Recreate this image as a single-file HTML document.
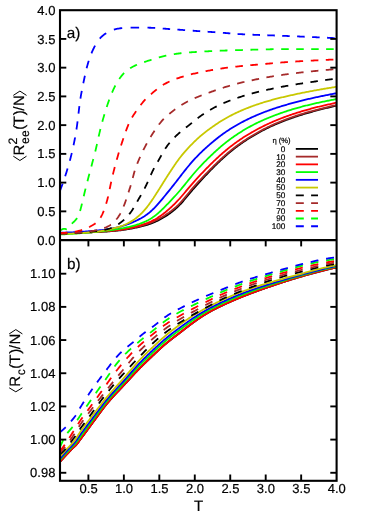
<!DOCTYPE html>
<html><head><meta charset="utf-8"><title>chart</title><style>html,body{margin:0;padding:0;background:#fff}body{width:374px;height:523px;overflow:hidden;position:relative}svg{position:absolute;left:0;top:0}</style></head><body>
<svg width="374" height="523" viewBox="0 0 374 523" style="display:block">
<rect width="374" height="523" fill="#fff"/>
<g fill="none" stroke-width="1.80" stroke-linejoin="round">
<path d="M59.80,233.20 L60.80,233.18 L61.80,233.17 L62.80,233.15 L63.80,233.13 L64.80,233.12 L65.80,233.10 L66.80,233.08 L67.80,233.06 L68.80,233.04 L69.80,233.01 L70.80,232.99 L71.80,232.96 L72.80,232.94 L73.80,232.91 L74.80,232.88 L75.80,232.85 L76.80,232.82 L77.79,232.79 L78.79,232.76 L79.79,232.73 L80.79,232.69 L81.79,232.66 L82.79,232.62 L83.79,232.58 L84.79,232.54 L85.79,232.51 L86.79,232.47 L87.79,232.43 L88.79,232.38 L89.79,232.34 L90.79,232.30 L91.78,232.26 L92.78,232.21 L93.78,232.17 L94.78,232.12 L95.78,232.08 L96.78,232.03 L97.78,231.98 L98.78,231.93 L99.78,231.88 L100.77,231.83 L101.77,231.78 L102.77,231.72 L103.77,231.67 L104.77,231.61 L105.77,231.55 L106.76,231.49 L107.76,231.42 L108.76,231.36 L109.76,231.28 L110.75,231.21 L111.75,231.13 L112.75,231.05 L113.74,230.97 L114.74,230.88 L115.73,230.79 L116.73,230.69 L117.72,230.59 L118.71,230.48 L119.71,230.36 L120.70,230.24 L121.69,230.12 L122.68,229.98 L123.67,229.85 L124.66,229.70 L125.64,229.55 L126.63,229.39 L127.62,229.23 L128.60,229.05 L129.58,228.88 L130.57,228.70 L131.55,228.51 L132.53,228.32 L133.51,228.12 L134.49,227.92 L135.47,227.72 L136.44,227.51 L137.42,227.30 L138.39,227.08 L139.37,226.85 L140.34,226.63 L141.31,226.39 L142.28,226.15 L143.25,225.90 L144.21,225.65 L145.17,225.38 L146.13,225.10 L147.08,224.82 L148.03,224.52 L148.98,224.21 L149.92,223.89 L150.86,223.56 L151.79,223.21 L152.72,222.85 L153.64,222.48 L154.56,222.09 L155.47,221.70 L156.38,221.28 L157.28,220.86 L158.17,220.42 L159.06,219.97 L159.94,219.52 L160.82,219.04 L161.69,218.56 L162.56,218.07 L163.42,217.57 L164.28,217.06 L165.13,216.53 L165.97,216.00 L166.80,215.46 L167.64,214.91 L168.46,214.35 L169.28,213.78 L170.09,213.20 L170.89,212.61 L171.68,212.01 L172.47,211.40 L173.25,210.78 L174.02,210.15 L174.79,209.51 L175.54,208.86 L176.28,208.20 L177.02,207.53 L177.74,206.85 L178.46,206.16 L179.16,205.45 L179.86,204.74 L180.54,204.02 L181.22,203.29 L181.89,202.55 L182.55,201.81 L183.20,201.05 L183.85,200.29 L184.49,199.53 L185.12,198.76 L185.76,197.99 L186.39,197.22 L187.02,196.45 L187.66,195.67 L188.29,194.90 L188.92,194.13 L189.56,193.36 L190.20,192.59 L190.84,191.82 L191.48,191.06 L192.13,190.30 L192.78,189.54 L193.44,188.79 L194.10,188.04 L194.76,187.29 L195.42,186.54 L196.09,185.79 L196.76,185.05 L197.43,184.31 L198.10,183.57 L198.77,182.83 L199.45,182.09 L200.13,181.36 L200.80,180.62 L201.48,179.89 L202.16,179.15 L202.84,178.42 L203.53,177.69 L204.21,176.96 L204.89,176.23 L205.58,175.50 L206.27,174.78 L206.95,174.05 L207.64,173.33 L208.33,172.60 L209.03,171.88 L209.72,171.16 L210.42,170.44 L211.11,169.73 L211.81,169.01 L212.51,168.30 L213.21,167.59 L213.92,166.88 L214.63,166.17 L215.33,165.47 L216.05,164.76 L216.76,164.06 L217.47,163.37 L218.19,162.67 L218.91,161.98 L219.64,161.29 L220.36,160.60 L221.09,159.92 L221.83,159.24 L222.56,158.56 L223.30,157.89 L224.04,157.22 L224.79,156.55 L225.54,155.89 L226.29,155.23 L227.04,154.58 L227.80,153.93 L228.56,153.28 L229.33,152.63 L230.09,152.00 L230.87,151.36 L231.64,150.73 L232.42,150.10 L233.20,149.48 L233.99,148.87 L234.78,148.25 L235.57,147.64 L236.37,147.04 L237.17,146.44 L237.97,145.85 L238.78,145.26 L239.59,144.67 L240.40,144.09 L241.22,143.52 L242.04,142.95 L242.86,142.38 L243.69,141.82 L244.52,141.26 L245.35,140.71 L246.19,140.16 L247.02,139.62 L247.86,139.08 L248.71,138.54 L249.56,138.01 L250.40,137.49 L251.26,136.96 L252.11,136.44 L252.97,135.93 L253.83,135.42 L254.69,134.91 L255.55,134.41 L256.42,133.92 L257.29,133.42 L258.16,132.93 L259.04,132.45 L259.91,131.97 L260.79,131.49 L261.67,131.02 L262.56,130.55 L263.44,130.09 L264.33,129.63 L265.22,129.18 L266.11,128.73 L267.01,128.29 L267.91,127.85 L268.81,127.42 L269.71,126.99 L270.61,126.56 L271.52,126.14 L272.43,125.73 L273.34,125.32 L274.25,124.91 L275.17,124.51 L276.09,124.11 L277.00,123.72 L277.93,123.33 L278.85,122.94 L279.77,122.56 L280.70,122.19 L281.63,121.82 L282.56,121.45 L283.49,121.08 L284.42,120.72 L285.35,120.37 L286.29,120.01 L287.22,119.66 L288.16,119.32 L289.10,118.98 L290.04,118.64 L290.98,118.30 L291.93,117.97 L292.87,117.64 L293.82,117.32 L294.76,117.00 L295.71,116.68 L296.66,116.37 L297.61,116.06 L298.56,115.75 L299.51,115.44 L300.47,115.14 L301.42,114.85 L302.38,114.55 L303.33,114.26 L304.29,113.97 L305.25,113.69 L306.21,113.41 L307.17,113.13 L308.13,112.85 L309.09,112.58 L310.05,112.30 L311.02,112.04 L311.98,111.77 L312.94,111.50 L313.91,111.24 L314.87,110.98 L315.84,110.72 L316.81,110.47 L317.77,110.21 L318.74,109.96 L319.71,109.71 L320.68,109.46 L321.65,109.21 L322.62,108.97 L323.59,108.72 L324.56,108.48 L325.53,108.24 L326.50,108.00 L327.47,107.77 L328.44,107.53 L329.41,107.30 L330.39,107.06 L331.36,106.83 L332.33,106.60 L333.30,106.37 L334.28,106.14 L335.25,105.91 L336.23,105.69 L336.60,105.60" stroke="#000000"/>
<path d="M59.80,233.40 L60.80,233.38 L61.80,233.35 L62.80,233.33 L63.80,233.31 L64.80,233.28 L65.80,233.26 L66.80,233.23 L67.80,233.21 L68.80,233.18 L69.80,233.15 L70.80,233.12 L71.80,233.09 L72.79,233.05 L73.79,233.02 L74.79,232.98 L75.79,232.95 L76.79,232.91 L77.79,232.87 L78.79,232.83 L79.79,232.79 L80.79,232.75 L81.79,232.71 L82.79,232.66 L83.79,232.62 L84.78,232.57 L85.78,232.52 L86.78,232.48 L87.78,232.43 L88.78,232.38 L89.78,232.33 L90.78,232.28 L91.78,232.23 L92.77,232.18 L93.77,232.12 L94.77,232.07 L95.77,232.01 L96.77,231.96 L97.77,231.90 L98.77,231.84 L99.76,231.78 L100.76,231.72 L101.76,231.66 L102.76,231.60 L103.76,231.53 L104.75,231.47 L105.75,231.40 L106.75,231.33 L107.74,231.25 L108.74,231.17 L109.74,231.09 L110.73,231.01 L111.73,230.92 L112.73,230.83 L113.72,230.74 L114.71,230.64 L115.71,230.53 L116.70,230.43 L117.69,230.31 L118.69,230.19 L119.68,230.07 L120.67,229.93 L121.66,229.79 L122.65,229.65 L123.63,229.50 L124.62,229.34 L125.60,229.17 L126.59,229.00 L127.57,228.83 L128.55,228.64 L129.53,228.45 L130.51,228.26 L131.49,228.06 L132.47,227.85 L133.45,227.64 L134.42,227.43 L135.40,227.21 L136.37,226.98 L137.34,226.75 L138.32,226.52 L139.28,226.28 L140.25,226.03 L141.22,225.78 L142.18,225.52 L143.14,225.26 L144.10,224.98 L145.06,224.70 L146.01,224.40 L146.95,224.09 L147.90,223.77 L148.83,223.44 L149.77,223.10 L150.70,222.74 L151.62,222.37 L152.53,221.98 L153.45,221.58 L154.35,221.17 L155.25,220.75 L156.15,220.31 L157.03,219.87 L157.92,219.41 L158.80,218.94 L159.67,218.46 L160.54,217.97 L161.41,217.47 L162.27,216.97 L163.12,216.45 L163.97,215.93 L164.82,215.40 L165.66,214.86 L166.49,214.32 L167.32,213.76 L168.14,213.20 L168.96,212.63 L169.77,212.04 L170.57,211.46 L171.37,210.86 L172.16,210.25 L172.94,209.63 L173.71,209.01 L174.48,208.37 L175.24,207.72 L175.98,207.06 L176.72,206.40 L177.45,205.72 L178.17,205.03 L178.87,204.33 L179.57,203.62 L180.26,202.90 L180.94,202.18 L181.61,201.44 L182.27,200.69 L182.92,199.94 L183.57,199.18 L184.21,198.42 L184.84,197.65 L185.48,196.88 L186.11,196.11 L186.74,195.33 L187.37,194.55 L188.00,193.78 L188.63,193.00 L189.26,192.23 L189.89,191.46 L190.53,190.69 L191.18,189.93 L191.82,189.16 L192.47,188.41 L193.12,187.65 L193.78,186.90 L194.44,186.15 L195.10,185.40 L195.77,184.65 L196.44,183.91 L197.12,183.17 L197.79,182.44 L198.47,181.70 L199.15,180.97 L199.83,180.24 L200.52,179.51 L201.20,178.78 L201.89,178.06 L202.58,177.34 L203.27,176.61 L203.97,175.89 L204.66,175.17 L205.36,174.46 L206.06,173.74 L206.75,173.02 L207.45,172.31 L208.15,171.60 L208.86,170.88 L209.56,170.17 L210.26,169.46 L210.97,168.75 L211.67,168.05 L212.38,167.34 L213.09,166.63 L213.80,165.93 L214.51,165.23 L215.22,164.53 L215.94,163.83 L216.66,163.13 L217.38,162.44 L218.10,161.75 L218.82,161.06 L219.55,160.37 L220.28,159.69 L221.01,159.01 L221.75,158.33 L222.49,157.66 L223.23,156.99 L223.97,156.32 L224.72,155.66 L225.47,155.00 L226.23,154.35 L226.99,153.70 L227.75,153.05 L228.51,152.41 L229.28,151.77 L230.05,151.13 L230.83,150.50 L231.61,149.88 L232.39,149.25 L233.18,148.64 L233.97,148.02 L234.76,147.42 L235.55,146.81 L236.35,146.21 L237.16,145.62 L237.96,145.03 L238.78,144.45 L239.59,143.87 L240.41,143.29 L241.23,142.72 L242.05,142.15 L242.88,141.59 L243.71,141.04 L244.54,140.48 L245.37,139.93 L246.21,139.39 L247.05,138.85 L247.90,138.32 L248.74,137.78 L249.59,137.26 L250.44,136.73 L251.30,136.21 L252.15,135.70 L253.01,135.19 L253.87,134.68 L254.74,134.18 L255.60,133.68 L256.47,133.18 L257.34,132.69 L258.21,132.20 L259.09,131.72 L259.97,131.24 L260.84,130.76 L261.73,130.29 L262.61,129.83 L263.50,129.37 L264.38,128.91 L265.28,128.46 L266.17,128.01 L267.06,127.56 L267.96,127.12 L268.86,126.69 L269.76,126.26 L270.67,125.84 L271.58,125.42 L272.48,125.00 L273.40,124.59 L274.31,124.18 L275.22,123.78 L276.14,123.39 L277.06,122.99 L277.98,122.61 L278.90,122.22 L279.83,121.84 L280.76,121.47 L281.68,121.09 L282.61,120.73 L283.54,120.36 L284.48,120.00 L285.41,119.65 L286.35,119.29 L287.28,118.94 L288.22,118.60 L289.16,118.26 L290.10,117.92 L291.04,117.58 L291.98,117.25 L292.93,116.92 L293.87,116.60 L294.82,116.28 L295.77,115.96 L296.72,115.65 L297.67,115.34 L298.62,115.03 L299.57,114.73 L300.53,114.42 L301.48,114.13 L302.44,113.83 L303.39,113.54 L304.35,113.25 L305.31,112.97 L306.27,112.69 L307.23,112.41 L308.19,112.13 L309.15,111.86 L310.11,111.59 L311.08,111.32 L312.04,111.06 L313.00,110.79 L313.97,110.53 L314.94,110.27 L315.90,110.02 L316.87,109.76 L317.84,109.51 L318.80,109.26 L319.77,109.01 L320.74,108.77 L321.71,108.52 L322.68,108.28 L323.65,108.04 L324.62,107.80 L325.60,107.57 L326.57,107.33 L327.54,107.10 L328.51,106.87 L329.49,106.64 L330.46,106.41 L331.43,106.19 L332.41,105.96 L333.38,105.74 L334.36,105.51 L335.33,105.29 L336.31,105.07 L336.60,105.00" stroke="#a52a2a"/>
<path d="M59.80,233.40 L60.80,233.37 L61.80,233.34 L62.80,233.31 L63.80,233.27 L64.80,233.24 L65.80,233.21 L66.80,233.18 L67.80,233.14 L68.79,233.10 L69.79,233.07 L70.79,233.03 L71.79,232.99 L72.79,232.95 L73.79,232.91 L74.79,232.87 L75.79,232.82 L76.79,232.78 L77.79,232.73 L78.79,232.68 L79.78,232.64 L80.78,232.59 L81.78,232.54 L82.78,232.49 L83.78,232.43 L84.78,232.38 L85.78,232.33 L86.77,232.27 L87.77,232.22 L88.77,232.16 L89.77,232.10 L90.77,232.05 L91.77,231.99 L92.76,231.93 L93.76,231.87 L94.76,231.81 L95.76,231.75 L96.76,231.68 L97.76,231.62 L98.75,231.56 L99.75,231.49 L100.75,231.43 L101.75,231.36 L102.74,231.29 L103.74,231.22 L104.74,231.14 L105.74,231.07 L106.73,230.99 L107.73,230.91 L108.73,230.83 L109.72,230.75 L110.72,230.66 L111.71,230.57 L112.71,230.47 L113.70,230.37 L114.70,230.26 L115.69,230.15 L116.68,230.04 L117.67,229.92 L118.66,229.79 L119.65,229.66 L120.64,229.52 L121.63,229.37 L122.62,229.21 L123.60,229.05 L124.59,228.88 L125.57,228.71 L126.55,228.53 L127.53,228.34 L128.51,228.14 L129.49,227.94 L130.47,227.73 L131.44,227.51 L132.42,227.29 L133.39,227.06 L134.36,226.83 L135.33,226.59 L136.30,226.34 L137.27,226.09 L138.23,225.84 L139.19,225.58 L140.15,225.31 L141.11,225.03 L142.07,224.74 L143.02,224.45 L143.97,224.14 L144.91,223.83 L145.85,223.50 L146.79,223.16 L147.72,222.81 L148.64,222.44 L149.56,222.06 L150.47,221.66 L151.37,221.25 L152.26,220.82 L153.15,220.37 L154.03,219.91 L154.90,219.44 L155.76,218.95 L156.61,218.44 L157.46,217.92 L158.30,217.38 L159.12,216.84 L159.95,216.28 L160.76,215.71 L161.57,215.12 L162.37,214.53 L163.17,213.93 L163.96,213.32 L164.74,212.70 L165.52,212.08 L166.29,211.45 L167.05,210.81 L167.82,210.16 L168.57,209.51 L169.32,208.85 L170.07,208.18 L170.80,207.51 L171.54,206.84 L172.27,206.15 L172.99,205.47 L173.71,204.77 L174.42,204.07 L175.13,203.37 L175.83,202.66 L176.52,201.94 L177.21,201.22 L177.90,200.49 L178.58,199.76 L179.25,199.02 L179.92,198.28 L180.58,197.53 L181.24,196.78 L181.89,196.02 L182.54,195.27 L183.19,194.50 L183.83,193.74 L184.47,192.97 L185.11,192.21 L185.75,191.44 L186.39,190.67 L187.03,189.90 L187.67,189.13 L188.31,188.37 L188.96,187.60 L189.60,186.84 L190.25,186.08 L190.90,185.32 L191.55,184.56 L192.21,183.81 L192.87,183.06 L193.53,182.31 L194.20,181.56 L194.86,180.82 L195.53,180.08 L196.21,179.34 L196.88,178.60 L197.56,177.86 L198.24,177.13 L198.92,176.40 L199.60,175.67 L200.29,174.94 L200.98,174.21 L201.67,173.49 L202.36,172.77 L203.05,172.04 L203.74,171.32 L204.44,170.61 L205.13,169.89 L205.83,169.17 L206.53,168.46 L207.23,167.75 L207.94,167.04 L208.64,166.33 L209.35,165.62 L210.06,164.92 L210.77,164.21 L211.48,163.51 L212.19,162.81 L212.91,162.11 L213.63,161.42 L214.35,160.72 L215.07,160.03 L215.80,159.35 L216.53,158.66 L217.26,157.98 L217.99,157.30 L218.73,156.62 L219.47,155.95 L220.21,155.28 L220.95,154.62 L221.70,153.96 L222.46,153.30 L223.21,152.64 L223.97,151.99 L224.73,151.35 L225.50,150.70 L226.26,150.06 L227.04,149.43 L227.81,148.80 L228.59,148.17 L229.37,147.55 L230.15,146.92 L230.94,146.31 L231.73,145.70 L232.52,145.09 L233.32,144.49 L234.12,143.89 L234.92,143.29 L235.73,142.70 L236.54,142.12 L237.35,141.54 L238.17,140.96 L238.99,140.39 L239.81,139.82 L240.64,139.26 L241.47,138.71 L242.30,138.15 L243.14,137.61 L243.98,137.07 L244.82,136.53 L245.67,136.00 L246.52,135.47 L247.37,134.95 L248.22,134.43 L249.08,133.92 L249.94,133.41 L250.80,132.90 L251.67,132.40 L252.53,131.91 L253.40,131.42 L254.28,130.93 L255.15,130.45 L256.03,129.97 L256.91,129.49 L257.79,129.02 L258.67,128.55 L259.56,128.09 L260.45,127.63 L261.34,127.18 L262.23,126.73 L263.12,126.28 L264.02,125.84 L264.92,125.40 L265.82,124.97 L266.72,124.54 L267.63,124.12 L268.53,123.70 L269.44,123.28 L270.35,122.87 L271.27,122.46 L272.18,122.06 L273.10,121.66 L274.02,121.26 L274.94,120.87 L275.86,120.49 L276.78,120.11 L277.71,119.73 L278.63,119.35 L279.56,118.98 L280.49,118.62 L281.42,118.26 L282.36,117.90 L283.29,117.54 L284.23,117.19 L285.17,116.85 L286.10,116.50 L287.04,116.16 L287.99,115.83 L288.93,115.50 L289.87,115.17 L290.82,114.84 L291.77,114.52 L292.71,114.20 L293.66,113.89 L294.61,113.58 L295.56,113.27 L296.52,112.96 L297.47,112.66 L298.42,112.36 L299.38,112.07 L300.33,111.77 L301.29,111.48 L302.25,111.20 L303.21,110.91 L304.17,110.63 L305.13,110.35 L306.09,110.08 L307.05,109.81 L308.01,109.54 L308.98,109.27 L309.94,109.01 L310.90,108.74 L311.87,108.49 L312.84,108.23 L313.80,107.98 L314.77,107.73 L315.74,107.48 L316.71,107.23 L317.68,106.99 L318.65,106.75 L319.62,106.51 L320.59,106.28 L321.57,106.04 L322.54,105.81 L323.51,105.58 L324.49,105.36 L325.46,105.13 L326.43,104.91 L327.41,104.69 L328.39,104.47 L329.36,104.26 L330.34,104.04 L331.32,103.83 L332.29,103.62 L333.27,103.41 L334.25,103.20 L335.23,102.99 L336.20,102.78 L336.60,102.70" stroke="#ff0000"/>
<path d="M59.80,234.50 L60.80,234.45 L61.80,234.40 L62.80,234.35 L63.79,234.29 L64.79,234.24 L65.79,234.19 L66.79,234.13 L67.79,234.07 L68.79,234.01 L69.78,233.96 L70.78,233.89 L71.78,233.83 L72.78,233.77 L73.78,233.70 L74.77,233.63 L75.77,233.56 L76.77,233.49 L77.77,233.42 L78.76,233.34 L79.76,233.27 L80.76,233.19 L81.75,233.11 L82.75,233.03 L83.75,232.95 L84.74,232.87 L85.74,232.79 L86.74,232.70 L87.73,232.62 L88.73,232.53 L89.73,232.44 L90.72,232.35 L91.72,232.26 L92.71,232.17 L93.71,232.07 L94.70,231.98 L95.70,231.88 L96.69,231.79 L97.69,231.69 L98.68,231.59 L99.68,231.48 L100.67,231.38 L101.67,231.27 L102.66,231.16 L103.65,231.05 L104.65,230.94 L105.64,230.82 L106.63,230.70 L107.63,230.58 L108.62,230.45 L109.61,230.32 L110.60,230.19 L111.59,230.05 L112.58,229.91 L113.57,229.76 L114.56,229.61 L115.54,229.46 L116.53,229.30 L117.52,229.14 L118.50,228.98 L119.49,228.80 L120.47,228.63 L121.45,228.45 L122.44,228.26 L123.42,228.07 L124.40,227.87 L125.37,227.67 L126.35,227.46 L127.33,227.25 L128.30,227.03 L129.27,226.80 L130.24,226.56 L131.21,226.32 L132.18,226.07 L133.14,225.82 L134.11,225.55 L135.06,225.27 L136.02,224.99 L136.97,224.70 L137.92,224.39 L138.87,224.08 L139.81,223.75 L140.74,223.41 L141.67,223.06 L142.60,222.69 L143.52,222.31 L144.43,221.92 L145.33,221.51 L146.23,221.09 L147.12,220.65 L148.00,220.20 L148.87,219.72 L149.73,219.24 L150.59,218.73 L151.43,218.21 L152.26,217.67 L153.08,217.12 L153.89,216.55 L154.69,215.96 L155.48,215.36 L156.26,214.75 L157.02,214.12 L157.79,213.48 L158.54,212.83 L159.28,212.17 L160.02,211.50 L160.75,210.82 L161.47,210.13 L162.19,209.44 L162.91,208.74 L163.62,208.04 L164.32,207.33 L165.03,206.63 L165.73,205.91 L166.42,205.20 L167.12,204.48 L167.81,203.76 L168.51,203.04 L169.20,202.32 L169.89,201.59 L170.57,200.87 L171.26,200.14 L171.94,199.41 L172.63,198.68 L173.31,197.95 L173.99,197.21 L174.66,196.48 L175.34,195.74 L176.01,195.00 L176.68,194.25 L177.34,193.51 L178.00,192.76 L178.66,192.01 L179.31,191.25 L179.96,190.49 L180.61,189.73 L181.25,188.96 L181.89,188.19 L182.53,187.42 L183.16,186.65 L183.79,185.88 L184.42,185.10 L185.05,184.32 L185.68,183.54 L186.30,182.76 L186.93,181.98 L187.55,181.21 L188.18,180.43 L188.81,179.65 L189.44,178.87 L190.07,178.10 L190.71,177.33 L191.34,176.56 L191.98,175.79 L192.63,175.02 L193.27,174.26 L193.92,173.50 L194.57,172.74 L195.22,171.98 L195.88,171.23 L196.54,170.48 L197.21,169.73 L197.87,168.99 L198.55,168.25 L199.22,167.51 L199.90,166.78 L200.58,166.05 L201.27,165.32 L201.96,164.60 L202.65,163.88 L203.35,163.16 L204.05,162.45 L204.75,161.73 L205.45,161.03 L206.16,160.32 L206.87,159.61 L207.58,158.91 L208.29,158.21 L209.01,157.51 L209.72,156.81 L210.44,156.12 L211.16,155.43 L211.88,154.73 L212.61,154.05 L213.34,153.36 L214.06,152.67 L214.80,151.99 L215.53,151.32 L216.27,150.64 L217.01,149.97 L217.75,149.30 L218.50,148.64 L219.25,147.98 L220.00,147.32 L220.76,146.67 L221.52,146.03 L222.29,145.39 L223.06,144.75 L223.83,144.12 L224.61,143.49 L225.39,142.87 L226.18,142.25 L226.97,141.64 L227.76,141.03 L228.56,140.43 L229.36,139.83 L230.16,139.23 L230.97,138.64 L231.78,138.06 L232.59,137.47 L233.40,136.90 L234.22,136.32 L235.04,135.76 L235.87,135.19 L236.70,134.64 L237.53,134.08 L238.37,133.53 L239.20,132.99 L240.04,132.45 L240.89,131.92 L241.74,131.39 L242.59,130.86 L243.44,130.35 L244.30,129.83 L245.16,129.32 L246.02,128.82 L246.89,128.32 L247.76,127.83 L248.63,127.34 L249.50,126.85 L250.38,126.38 L251.26,125.90 L252.14,125.43 L253.03,124.97 L253.92,124.51 L254.81,124.06 L255.70,123.61 L256.59,123.17 L257.49,122.73 L258.39,122.30 L259.30,121.87 L260.20,121.45 L261.11,121.03 L262.02,120.62 L262.93,120.21 L263.85,119.80 L264.76,119.40 L265.68,119.01 L266.60,118.62 L267.52,118.23 L268.44,117.84 L269.37,117.46 L270.29,117.09 L271.22,116.72 L272.15,116.35 L273.08,115.99 L274.01,115.63 L274.95,115.27 L275.88,114.92 L276.82,114.57 L277.76,114.22 L278.70,113.88 L279.64,113.54 L280.58,113.21 L281.52,112.88 L282.47,112.55 L283.42,112.23 L284.36,111.91 L285.31,111.60 L286.26,111.28 L287.21,110.97 L288.16,110.67 L289.12,110.37 L290.07,110.07 L291.03,109.78 L291.98,109.48 L292.94,109.20 L293.90,108.91 L294.86,108.63 L295.82,108.35 L296.78,108.08 L297.74,107.80 L298.70,107.54 L299.67,107.27 L300.63,107.01 L301.60,106.75 L302.56,106.49 L303.53,106.24 L304.50,105.99 L305.47,105.74 L306.44,105.50 L307.41,105.26 L308.38,105.02 L309.35,104.78 L310.32,104.55 L311.29,104.32 L312.27,104.09 L313.24,103.86 L314.22,103.64 L315.19,103.42 L316.17,103.20 L317.14,102.98 L318.12,102.77 L319.10,102.56 L320.08,102.35 L321.05,102.14 L322.03,101.94 L323.01,101.73 L323.99,101.53 L324.97,101.33 L325.95,101.14 L326.93,100.94 L327.91,100.75 L328.89,100.56 L329.88,100.37 L330.86,100.18 L331.84,99.99 L332.82,99.81 L333.81,99.62 L334.79,99.44 L335.77,99.25 L336.60,99.10" stroke="#00ff00"/>
<path d="M59.80,232.70 L60.80,232.68 L61.80,232.66 L62.80,232.63 L63.80,232.61 L64.80,232.58 L65.80,232.55 L66.80,232.52 L67.80,232.49 L68.80,232.46 L69.79,232.42 L70.79,232.38 L71.79,232.34 L72.79,232.29 L73.79,232.25 L74.79,232.19 L75.79,232.14 L76.79,232.09 L77.78,232.03 L78.78,231.97 L79.78,231.90 L80.78,231.84 L81.77,231.77 L82.77,231.70 L83.77,231.63 L84.77,231.56 L85.76,231.48 L86.76,231.41 L87.76,231.33 L88.75,231.25 L89.75,231.17 L90.75,231.08 L91.74,231.00 L92.74,230.91 L93.74,230.82 L94.73,230.73 L95.73,230.64 L96.72,230.55 L97.72,230.45 L98.71,230.35 L99.71,230.24 L100.70,230.14 L101.69,230.03 L102.69,229.91 L103.68,229.79 L104.67,229.66 L105.66,229.53 L106.65,229.40 L107.64,229.25 L108.62,229.10 L109.61,228.94 L110.59,228.78 L111.58,228.60 L112.56,228.42 L113.54,228.23 L114.51,228.03 L115.49,227.81 L116.46,227.59 L117.43,227.36 L118.40,227.12 L119.36,226.87 L120.32,226.61 L121.28,226.33 L122.24,226.05 L123.19,225.76 L124.14,225.46 L125.09,225.15 L126.04,224.83 L126.98,224.50 L127.92,224.16 L128.85,223.81 L129.78,223.45 L130.71,223.09 L131.64,222.71 L132.56,222.33 L133.47,221.94 L134.39,221.54 L135.29,221.12 L136.20,220.70 L137.09,220.27 L137.99,219.83 L138.87,219.38 L139.75,218.91 L140.63,218.44 L141.49,217.95 L142.35,217.45 L143.20,216.94 L144.05,216.42 L144.88,215.88 L145.70,215.33 L146.51,214.76 L147.32,214.17 L148.11,213.58 L148.89,212.97 L149.65,212.34 L150.41,211.70 L151.16,211.04 L151.89,210.38 L152.62,209.70 L153.33,209.01 L154.03,208.31 L154.73,207.59 L155.42,206.87 L156.10,206.15 L156.77,205.41 L157.44,204.67 L158.10,203.92 L158.75,203.17 L159.40,202.41 L160.05,201.65 L160.70,200.89 L161.34,200.12 L161.98,199.35 L162.62,198.58 L163.25,197.81 L163.89,197.04 L164.52,196.27 L165.16,195.49 L165.79,194.72 L166.42,193.94 L167.05,193.17 L167.68,192.39 L168.31,191.61 L168.94,190.84 L169.57,190.06 L170.19,189.28 L170.82,188.50 L171.44,187.72 L172.07,186.94 L172.69,186.16 L173.31,185.37 L173.93,184.59 L174.55,183.80 L175.17,183.01 L175.78,182.23 L176.40,181.44 L177.01,180.65 L177.62,179.85 L178.23,179.06 L178.84,178.27 L179.45,177.48 L180.06,176.68 L180.66,175.89 L181.27,175.10 L181.89,174.31 L182.50,173.52 L183.11,172.73 L183.73,171.94 L184.35,171.16 L184.97,170.37 L185.59,169.59 L186.22,168.81 L186.85,168.04 L187.48,167.26 L188.12,166.49 L188.76,165.72 L189.40,164.96 L190.05,164.20 L190.70,163.44 L191.35,162.68 L192.01,161.93 L192.67,161.18 L193.34,160.44 L194.01,159.70 L194.68,158.96 L195.36,158.23 L196.04,157.50 L196.73,156.77 L197.43,156.05 L198.12,155.34 L198.82,154.63 L199.53,153.92 L200.24,153.22 L200.95,152.52 L201.67,151.83 L202.40,151.14 L203.12,150.45 L203.86,149.77 L204.59,149.09 L205.33,148.42 L206.07,147.75 L206.81,147.08 L207.56,146.41 L208.31,145.75 L209.06,145.09 L209.81,144.44 L210.57,143.79 L211.33,143.14 L212.09,142.49 L212.86,141.84 L213.62,141.20 L214.39,140.57 L215.17,139.93 L215.94,139.30 L216.72,138.68 L217.50,138.06 L218.29,137.44 L219.08,136.83 L219.87,136.22 L220.67,135.62 L221.47,135.03 L222.28,134.43 L223.09,133.85 L223.90,133.27 L224.72,132.70 L225.54,132.13 L226.37,131.56 L227.19,131.00 L228.03,130.45 L228.86,129.90 L229.70,129.36 L230.54,128.82 L231.39,128.29 L232.24,127.77 L233.09,127.24 L233.94,126.73 L234.80,126.22 L235.66,125.71 L236.53,125.21 L237.40,124.71 L238.27,124.22 L239.14,123.74 L240.02,123.25 L240.89,122.78 L241.78,122.31 L242.66,121.84 L243.55,121.38 L244.43,120.92 L245.33,120.47 L246.22,120.03 L247.12,119.58 L248.01,119.15 L248.92,118.71 L249.82,118.28 L250.72,117.86 L251.63,117.44 L252.54,117.03 L253.45,116.62 L254.36,116.21 L255.28,115.81 L256.20,115.41 L257.11,115.02 L258.04,114.63 L258.96,114.24 L259.88,113.86 L260.81,113.49 L261.74,113.12 L262.67,112.75 L263.60,112.38 L264.53,112.02 L265.46,111.67 L266.40,111.32 L267.34,110.97 L268.28,110.63 L269.22,110.29 L270.16,109.95 L271.10,109.62 L272.04,109.29 L272.99,108.97 L273.94,108.65 L274.89,108.33 L275.83,108.02 L276.78,107.71 L277.74,107.40 L278.69,107.10 L279.64,106.80 L280.60,106.50 L281.55,106.20 L282.51,105.91 L283.47,105.62 L284.42,105.34 L285.38,105.05 L286.34,104.77 L287.30,104.49 L288.26,104.22 L289.22,103.95 L290.19,103.67 L291.15,103.41 L292.11,103.14 L293.08,102.88 L294.04,102.62 L295.01,102.36 L295.98,102.10 L296.94,101.85 L297.91,101.60 L298.88,101.35 L299.85,101.10 L300.82,100.86 L301.79,100.61 L302.76,100.37 L303.73,100.14 L304.70,99.90 L305.67,99.67 L306.65,99.44 L307.62,99.21 L308.59,98.98 L309.57,98.76 L310.54,98.54 L311.52,98.31 L312.49,98.10 L313.47,97.88 L314.45,97.66 L315.42,97.45 L316.40,97.24 L317.38,97.03 L318.36,96.82 L319.33,96.61 L320.31,96.41 L321.29,96.21 L322.27,96.00 L323.25,95.80 L324.23,95.60 L325.21,95.41 L326.19,95.21 L327.17,95.02 L328.15,94.82 L329.14,94.63 L330.12,94.44 L331.10,94.25 L332.08,94.06 L333.06,93.87 L334.05,93.68 L335.03,93.50 L336.01,93.31 L336.60,93.20" stroke="#0000ff"/>
<path d="M59.80,233.90 L60.80,233.88 L61.80,233.86 L62.80,233.83 L63.80,233.81 L64.80,233.78 L65.80,233.75 L66.80,233.72 L67.80,233.69 L68.80,233.65 L69.79,233.62 L70.79,233.58 L71.79,233.53 L72.79,233.49 L73.79,233.44 L74.79,233.38 L75.79,233.33 L76.78,233.27 L77.78,233.21 L78.78,233.15 L79.78,233.08 L80.77,233.01 L81.77,232.94 L82.77,232.86 L83.77,232.79 L84.76,232.71 L85.76,232.63 L86.76,232.54 L87.75,232.46 L88.75,232.37 L89.74,232.27 L90.74,232.18 L91.73,232.08 L92.73,231.98 L93.72,231.88 L94.72,231.77 L95.71,231.66 L96.70,231.54 L97.69,231.42 L98.68,231.29 L99.67,231.16 L100.66,231.02 L101.65,230.87 L102.64,230.71 L103.62,230.55 L104.60,230.38 L105.59,230.20 L106.57,230.02 L107.55,229.83 L108.52,229.62 L109.50,229.41 L110.47,229.20 L111.45,228.97 L112.42,228.74 L113.38,228.49 L114.35,228.24 L115.31,227.98 L116.27,227.71 L117.23,227.43 L118.18,227.14 L119.13,226.84 L120.08,226.53 L121.02,226.20 L121.95,225.86 L122.88,225.51 L123.80,225.14 L124.72,224.76 L125.63,224.36 L126.53,223.95 L127.42,223.52 L128.31,223.07 L129.18,222.61 L130.05,222.13 L130.90,221.63 L131.75,221.11 L132.59,220.58 L133.41,220.03 L134.23,219.47 L135.03,218.89 L135.82,218.30 L136.60,217.69 L137.37,217.06 L138.13,216.42 L138.88,215.77 L139.62,215.11 L140.35,214.43 L141.06,213.74 L141.77,213.04 L142.46,212.33 L143.14,211.61 L143.82,210.87 L144.48,210.13 L145.13,209.38 L145.77,208.62 L146.40,207.85 L147.03,207.07 L147.64,206.29 L148.25,205.49 L148.84,204.69 L149.43,203.89 L150.01,203.08 L150.59,202.26 L151.16,201.44 L151.72,200.62 L152.28,199.79 L152.83,198.96 L153.39,198.13 L153.93,197.29 L154.48,196.46 L155.03,195.62 L155.57,194.78 L156.11,193.94 L156.65,193.10 L157.19,192.26 L157.73,191.41 L158.27,190.57 L158.80,189.73 L159.34,188.88 L159.87,188.03 L160.40,187.19 L160.93,186.34 L161.46,185.49 L161.99,184.65 L162.52,183.80 L163.05,182.95 L163.58,182.10 L164.11,181.25 L164.64,180.41 L165.17,179.56 L165.71,178.71 L166.24,177.87 L166.78,177.03 L167.32,176.18 L167.86,175.34 L168.40,174.50 L168.95,173.66 L169.49,172.83 L170.04,171.99 L170.59,171.15 L171.14,170.32 L171.69,169.48 L172.24,168.65 L172.79,167.82 L173.35,166.99 L173.91,166.16 L174.47,165.33 L175.03,164.50 L175.60,163.68 L176.17,162.86 L176.74,162.04 L177.32,161.23 L177.91,160.42 L178.50,159.62 L179.09,158.82 L179.70,158.02 L180.31,157.23 L180.92,156.45 L181.55,155.67 L182.17,154.89 L182.81,154.12 L183.45,153.36 L184.10,152.60 L184.75,151.84 L185.41,151.09 L186.08,150.35 L186.75,149.60 L187.42,148.87 L188.10,148.13 L188.78,147.40 L189.46,146.67 L190.15,145.95 L190.85,145.23 L191.54,144.51 L192.24,143.80 L192.95,143.09 L193.65,142.39 L194.37,141.69 L195.08,140.99 L195.81,140.30 L196.53,139.62 L197.26,138.94 L198.00,138.26 L198.74,137.60 L199.49,136.94 L200.24,136.28 L201.00,135.63 L201.77,134.99 L202.54,134.35 L203.31,133.72 L204.09,133.10 L204.87,132.48 L205.66,131.86 L206.45,131.25 L207.25,130.65 L208.05,130.05 L208.85,129.45 L209.65,128.86 L210.46,128.27 L211.27,127.69 L212.09,127.11 L212.90,126.53 L213.72,125.96 L214.55,125.39 L215.37,124.83 L216.20,124.27 L217.03,123.72 L217.86,123.17 L218.70,122.62 L219.54,122.08 L220.39,121.55 L221.23,121.02 L222.09,120.50 L222.94,119.98 L223.80,119.47 L224.66,118.96 L225.52,118.46 L226.39,117.97 L227.26,117.48 L228.14,116.99 L229.01,116.52 L229.89,116.05 L230.78,115.58 L231.67,115.12 L232.56,114.67 L233.45,114.22 L234.35,113.78 L235.24,113.34 L236.15,112.91 L237.05,112.49 L237.96,112.07 L238.87,111.66 L239.78,111.25 L240.69,110.84 L241.61,110.44 L242.53,110.05 L243.45,109.66 L244.37,109.28 L245.29,108.90 L246.22,108.52 L247.15,108.15 L248.08,107.79 L249.01,107.42 L249.94,107.07 L250.88,106.71 L251.82,106.37 L252.75,106.02 L253.69,105.68 L254.64,105.35 L255.58,105.02 L256.52,104.69 L257.47,104.37 L258.42,104.05 L259.37,103.73 L260.32,103.42 L261.27,103.12 L262.22,102.81 L263.17,102.51 L264.13,102.22 L265.08,101.93 L266.04,101.64 L267.00,101.36 L267.96,101.08 L268.92,100.80 L269.88,100.53 L270.85,100.26 L271.81,99.99 L272.77,99.73 L273.74,99.47 L274.70,99.21 L275.67,98.96 L276.64,98.71 L277.61,98.46 L278.58,98.21 L279.55,97.97 L280.52,97.73 L281.49,97.49 L282.46,97.25 L283.43,97.02 L284.40,96.79 L285.38,96.56 L286.35,96.33 L287.33,96.11 L288.30,95.88 L289.28,95.66 L290.25,95.44 L291.23,95.22 L292.20,95.01 L293.18,94.79 L294.16,94.58 L295.13,94.37 L296.11,94.16 L297.09,93.95 L298.07,93.74 L299.05,93.54 L300.03,93.34 L301.01,93.13 L301.99,92.93 L302.97,92.74 L303.95,92.54 L304.93,92.34 L305.91,92.15 L306.89,91.96 L307.87,91.77 L308.85,91.58 L309.83,91.39 L310.82,91.21 L311.80,91.02 L312.78,90.84 L313.77,90.66 L314.75,90.48 L315.73,90.30 L316.72,90.12 L317.70,89.95 L318.69,89.77 L319.67,89.60 L320.66,89.43 L321.64,89.26 L322.63,89.09 L323.61,88.92 L324.60,88.75 L325.59,88.59 L326.57,88.42 L327.56,88.26 L328.55,88.10 L329.53,87.94 L330.52,87.78 L331.51,87.62 L332.49,87.46 L333.48,87.30 L334.47,87.14 L335.46,86.98 L336.44,86.82 L336.60,86.80" stroke="#c8c800"/>
<path d="M59.80,233.60 L60.80,233.59 L61.80,233.57 L62.80,233.56 L63.80,233.54 L64.80,233.52 L65.80,233.50 L66.80,233.48 L67.34,233.46 M74.74,233.14 L74.79,233.14 L75.79,233.08 L76.79,233.02 L77.78,232.95 L78.78,232.88 L79.78,232.81 L80.78,232.73 L81.77,232.65 L82.27,232.61 M89.64,231.89 L89.73,231.88 L90.73,231.77 L91.72,231.65 L92.71,231.53 L93.70,231.41 L94.70,231.28 L95.69,231.15 L96.68,231.01 L97.12,230.95 M104.44,229.80 L104.57,229.77 L105.55,229.58 L106.52,229.36 L107.49,229.13 L108.45,228.87 L109.40,228.59 L110.34,228.27 L111.27,227.93 L111.69,227.75 M118.21,224.25 L118.28,224.21 L119.10,223.65 L119.92,223.08 L120.72,222.49 L121.51,221.88 L122.29,221.26 L123.05,220.62 L123.80,219.96 L124.16,219.63 M129.22,214.23 L129.27,214.17 L129.89,213.39 L130.49,212.59 L131.08,211.79 L131.65,210.97 L132.20,210.14 L132.75,209.30 L133.28,208.46 L133.53,208.05 M137.23,201.63 L137.28,201.54 L137.77,200.67 L138.27,199.80 L138.76,198.93 L139.25,198.06 L139.75,197.19 L140.24,196.32 L140.74,195.45 L140.95,195.07 M144.52,188.57 L144.59,188.44 L145.04,187.55 L145.50,186.66 L145.94,185.77 L146.38,184.87 L146.81,183.97 L147.23,183.06 L147.65,182.15 L147.81,181.79 M150.78,175.00 L150.86,174.83 L151.27,173.92 L151.69,173.01 L152.12,172.11 L152.55,171.21 L153.00,170.31 L153.45,169.42 L153.92,168.54 L154.08,168.22 M157.71,161.76 L157.82,161.56 L158.32,160.69 L158.81,159.82 L159.31,158.95 L159.80,158.08 L160.29,157.21 L160.79,156.34 L161.28,155.47 L161.43,155.20 M165.20,148.82 L165.35,148.59 L165.89,147.76 L166.46,146.93 L167.03,146.12 L167.62,145.31 L168.22,144.52 L168.83,143.73 L169.46,142.95 L169.64,142.73 M174.64,137.27 L174.85,137.06 L175.56,136.36 L176.28,135.66 L177.01,134.98 L177.74,134.30 L178.48,133.63 L179.23,132.97 L179.98,132.31 L180.17,132.15 M185.96,127.51 L186.22,127.31 L187.01,126.70 L187.80,126.09 L188.59,125.48 L189.38,124.86 L190.16,124.24 L190.94,123.62 L191.72,122.99 L191.89,122.85 M197.66,118.21 L197.96,117.98 L198.75,117.38 L199.55,116.78 L200.36,116.19 L201.17,115.61 L201.99,115.03 L202.81,114.46 L203.63,113.90 L203.78,113.80 M210.06,109.86 L210.41,109.66 L211.28,109.17 L212.15,108.68 L213.03,108.21 L213.92,107.74 L214.80,107.28 L215.69,106.83 L216.59,106.38 L216.71,106.32 M223.44,103.22 L223.85,103.04 L224.77,102.65 L225.70,102.26 L226.62,101.88 L227.55,101.51 L228.48,101.14 L229.41,100.78 L230.34,100.42 L230.43,100.38 M237.41,97.89 L237.88,97.73 L238.82,97.42 L239.78,97.11 L240.73,96.81 L241.68,96.51 L242.64,96.21 L243.59,95.92 L244.55,95.63 L244.60,95.62 M251.73,93.59 L252.25,93.45 L253.21,93.19 L254.18,92.94 L255.15,92.69 L256.12,92.44 L257.09,92.20 L258.06,91.96 L259.03,91.72 L259.03,91.72 M266.25,90.04 L266.82,89.91 L267.80,89.69 L268.77,89.48 L269.75,89.27 L270.73,89.06 L271.71,88.85 L272.68,88.64 L273.62,88.45 M280.89,86.99 L281.51,86.87 L282.49,86.68 L283.47,86.50 L284.46,86.32 L285.44,86.14 L286.42,85.96 L287.41,85.79 L288.30,85.63 M295.61,84.41 L296.28,84.30 L297.27,84.14 L298.26,83.98 L299.25,83.83 L300.24,83.67 L301.22,83.52 L302.21,83.37 L303.06,83.24 M310.40,82.16 L311.12,82.06 L312.11,81.92 L313.10,81.77 L314.09,81.63 L315.08,81.49 L316.07,81.35 L317.06,81.21 L317.86,81.09 M325.20,80.06 L325.97,79.96 L326.96,79.82 L327.95,79.68 L328.94,79.55 L329.93,79.41 L330.92,79.27 L331.91,79.14 L332.73,79.03" stroke="#000000"/>
<path d="M59.80,233.60 L60.80,233.58 L61.80,233.56 L62.80,233.54 L63.80,233.51 L64.80,233.48 L65.80,233.45 L66.80,233.41 L67.35,233.39 M74.75,232.93 L74.78,232.93 L75.78,232.85 L76.77,232.77 L77.77,232.68 L78.76,232.59 L79.76,232.49 L80.76,232.39 L81.75,232.29 L82.27,232.24 M89.64,231.36 L89.69,231.36 L90.68,231.22 L91.67,231.08 L92.66,230.93 L93.65,230.77 L94.63,230.60 L95.61,230.41 L96.59,230.21 L97.08,230.11 M104.20,228.05 L104.25,228.03 L105.18,227.66 L106.09,227.28 L106.99,226.86 L107.87,226.41 L108.74,225.94 L109.59,225.43 L110.41,224.89 L110.87,224.57 M116.28,219.51 L116.87,218.79 L117.48,218.00 L118.06,217.20 L118.62,216.38 L119.15,215.54 L119.67,214.69 L120.16,213.83 L120.47,213.25 M123.59,206.52 L123.93,205.68 L124.30,204.75 L124.65,203.82 L125.00,202.88 L125.33,201.94 L125.66,201.00 L125.99,200.05 L126.19,199.44 M128.48,192.38 L128.77,191.49 L129.09,190.54 L129.40,189.59 L129.71,188.65 L130.02,187.69 L130.32,186.74 L130.62,185.79 L130.80,185.20 M132.74,178.04 L132.98,177.11 L133.23,176.14 L133.48,175.17 L133.74,174.21 L134.00,173.25 L134.28,172.29 L134.57,171.33 L134.74,170.76 M137.23,163.77 L137.59,162.86 L137.97,161.94 L138.35,161.02 L138.74,160.09 L139.14,159.18 L139.53,158.26 L139.94,157.34 L140.17,156.82 M143.33,150.11 L143.33,150.10 L143.78,149.21 L144.23,148.32 L144.69,147.43 L145.15,146.54 L145.62,145.66 L146.09,144.78 L146.57,143.90 L146.83,143.42 M150.55,137.00 L150.57,136.97 L151.09,136.12 L151.62,135.27 L152.15,134.43 L152.69,133.58 L153.24,132.75 L153.79,131.91 L154.34,131.08 L154.63,130.65 M158.94,124.61 L158.97,124.56 L159.58,123.77 L160.20,122.98 L160.82,122.21 L161.46,121.44 L162.12,120.69 L162.78,119.95 L163.46,119.22 L163.82,118.85 M169.30,113.87 L169.35,113.83 L170.12,113.20 L170.90,112.58 L171.68,111.96 L172.47,111.34 L173.27,110.73 L174.06,110.13 L174.87,109.53 L175.27,109.24 M181.40,105.06 L181.46,105.02 L182.31,104.50 L183.17,103.98 L184.03,103.48 L184.90,102.99 L185.77,102.50 L186.65,102.02 L187.53,101.56 L187.96,101.34 M194.67,98.17 L194.75,98.13 L195.67,97.74 L196.60,97.36 L197.52,96.98 L198.45,96.61 L199.38,96.24 L200.31,95.88 L201.25,95.53 L201.68,95.37 M208.64,92.79 L208.75,92.75 L209.69,92.41 L210.63,92.06 L211.57,91.72 L212.51,91.38 L213.45,91.04 L214.39,90.70 L215.33,90.36 L215.73,90.22 M222.76,87.84 L222.90,87.79 L223.86,87.49 L224.81,87.19 L225.77,86.89 L226.72,86.60 L227.68,86.31 L228.64,86.03 L229.60,85.74 L229.98,85.63 M237.13,83.66 L237.31,83.62 L238.28,83.37 L239.25,83.12 L240.22,82.88 L241.19,82.65 L242.16,82.41 L243.13,82.18 L244.11,81.96 L244.47,81.87 M251.71,80.29 L251.92,80.25 L252.90,80.04 L253.88,79.84 L254.86,79.64 L255.84,79.45 L256.82,79.25 L257.80,79.06 L258.78,78.86 L259.11,78.80 M266.41,77.44 L266.65,77.40 L267.63,77.23 L268.62,77.05 L269.60,76.89 L270.59,76.72 L271.58,76.55 L272.56,76.39 L273.55,76.23 L273.85,76.18 M281.19,75.06 L281.46,75.02 L282.45,74.88 L283.44,74.73 L284.43,74.59 L285.42,74.46 L286.41,74.32 L287.40,74.19 L288.39,74.05 L288.66,74.02 M296.02,73.08 L296.33,73.05 L297.32,72.93 L298.31,72.81 L299.30,72.69 L300.30,72.58 L301.29,72.46 L302.28,72.35 L303.28,72.24 L303.52,72.21 M310.90,71.42 L311.23,71.38 L312.23,71.28 L313.22,71.18 L314.22,71.08 L315.21,70.99 L316.21,70.89 L317.20,70.79 L318.20,70.70 L318.41,70.68 M325.80,70.00 L326.17,69.97 L327.16,69.88 L328.16,69.80 L329.15,69.71 L330.15,69.63 L331.15,69.54 L332.14,69.46 L333.14,69.38 L333.37,69.36" stroke="#a52a2a"/>
<path d="M59.80,233.10 L60.80,233.06 L61.80,233.01 L62.80,232.96 L63.79,232.91 L64.79,232.84 L65.79,232.77 L66.78,232.69 L67.38,232.64 M74.78,231.70 L75.69,231.54 L76.67,231.34 L77.65,231.13 L78.62,230.90 L79.58,230.65 L80.54,230.38 L81.49,230.09 L82.14,229.88 M89.06,227.10 L89.81,226.74 L90.70,226.28 L91.57,225.81 L92.44,225.32 L93.28,224.80 L94.11,224.26 L94.91,223.69 L95.55,223.20 M100.49,217.66 L100.80,217.16 L101.28,216.30 L101.74,215.42 L102.18,214.53 L102.60,213.63 L103.00,212.71 L103.38,211.79 L103.75,210.87 L103.77,210.83 M106.17,203.77 L106.31,203.30 L106.58,202.34 L106.85,201.37 L107.12,200.41 L107.37,199.44 L107.62,198.47 L107.86,197.50 L108.09,196.53 L108.11,196.43 M109.69,189.14 L109.77,188.71 L109.97,187.73 L110.17,186.75 L110.37,185.77 L110.57,184.79 L110.77,183.81 L110.98,182.84 L111.19,181.86 L111.23,181.70 M112.91,174.44 L113.00,174.06 L113.23,173.09 L113.47,172.12 L113.72,171.15 L113.96,170.18 L114.21,169.21 L114.46,168.25 L114.71,167.28 L114.76,167.07 M116.71,159.87 L116.80,159.56 L117.07,158.59 L117.35,157.63 L117.62,156.67 L117.90,155.71 L118.18,154.75 L118.47,153.79 L118.75,152.84 L118.83,152.58 M121.04,145.46 L121.13,145.20 L121.44,144.25 L121.75,143.30 L122.06,142.35 L122.38,141.40 L122.69,140.45 L123.01,139.50 L123.33,138.55 L123.43,138.26 M125.88,131.21 L125.95,130.99 L126.29,130.05 L126.64,129.12 L126.99,128.18 L127.35,127.25 L127.71,126.32 L128.09,125.39 L128.47,124.47 L128.62,124.13 M132.01,117.49 L132.09,117.36 L132.61,116.51 L133.14,115.67 L133.69,114.84 L134.25,114.01 L134.81,113.18 L135.38,112.36 L135.95,111.54 L136.21,111.17 M140.59,105.13 L140.64,105.07 L141.25,104.27 L141.87,103.49 L142.50,102.72 L143.14,101.95 L143.80,101.20 L144.46,100.46 L145.14,99.73 L145.51,99.35 M150.95,94.25 L150.95,94.25 L151.71,93.59 L152.46,92.94 L153.22,92.29 L153.99,91.64 L154.75,91.00 L155.52,90.36 L156.30,89.74 L156.76,89.37 M162.86,85.08 L163.65,84.59 L164.51,84.09 L165.38,83.60 L166.26,83.12 L167.14,82.66 L168.03,82.21 L168.93,81.77 L169.54,81.49 M176.45,78.69 L177.26,78.41 L178.21,78.08 L179.16,77.77 L180.11,77.46 L181.06,77.15 L182.01,76.86 L182.97,76.57 L183.68,76.36 M190.87,74.40 L191.65,74.20 L192.62,73.97 L193.59,73.73 L194.57,73.51 L195.54,73.28 L196.52,73.07 L197.50,72.85 L198.27,72.69 M205.58,71.23 L206.32,71.09 L207.30,70.90 L208.29,70.72 L209.27,70.53 L210.25,70.35 L211.24,70.17 L212.22,69.99 L213.05,69.85 M220.41,68.63 L221.10,68.53 L222.09,68.38 L223.08,68.24 L224.07,68.11 L225.06,67.97 L226.05,67.84 L227.04,67.71 L227.93,67.59 M235.34,66.71 L235.98,66.64 L236.97,66.53 L237.97,66.42 L238.96,66.32 L239.95,66.21 L240.95,66.11 L241.94,66.01 L242.89,65.92 M250.31,65.22 L250.90,65.17 L251.90,65.08 L252.90,65.00 L253.89,64.91 L254.89,64.82 L255.89,64.73 L256.88,64.65 L257.88,64.56 M265.31,63.90 L265.85,63.85 L266.84,63.76 L267.84,63.67 L268.83,63.58 L269.83,63.49 L270.83,63.40 L271.82,63.31 L272.82,63.22 L272.87,63.21 M280.30,62.57 L280.79,62.53 L281.78,62.46 L282.78,62.38 L283.78,62.30 L284.78,62.23 L285.77,62.16 L286.77,62.09 L287.77,62.02 L287.86,62.01 M295.31,61.53 L295.75,61.51 L296.75,61.45 L297.75,61.39 L298.75,61.33 L299.75,61.27 L300.74,61.21 L301.74,61.16 L302.74,61.10 L303.12,61.08 M310.80,60.66 L311.73,60.61 L312.73,60.56 L313.72,60.50 L314.72,60.45 L315.72,60.40 L316.72,60.35 L317.72,60.30 L318.36,60.26 M325.80,59.90 L326.71,59.85 L327.71,59.81 L328.71,59.76 L329.70,59.71 L330.70,59.67 L331.70,59.62 L332.70,59.57 L333.39,59.54" stroke="#ff0000"/>
<path d="M59.80,231.00 L60.56,230.35 L61.37,229.77 L62.25,229.30 L63.19,228.95 L64.17,228.80 L65.16,228.93 L66.09,229.28 L66.85,229.38 M71.78,223.71 L72.17,223.34 L72.91,222.68 L73.62,222.01 L74.31,221.31 L74.99,220.60 L75.64,219.87 L76.27,219.13 L76.85,218.36 L77.05,218.06 M80.06,211.10 L80.29,210.28 L80.55,209.32 L80.80,208.35 L81.05,207.38 L81.29,206.41 L81.53,205.44 L81.77,204.47 L81.99,203.60 M83.75,196.19 L83.86,195.72 L84.09,194.74 L84.31,193.77 L84.54,192.80 L84.77,191.82 L85.01,190.85 L85.24,189.88 L85.48,188.91 L85.54,188.65 M87.42,181.26 L87.45,181.16 L87.71,180.19 L87.96,179.22 L88.22,178.25 L88.47,177.29 L88.73,176.32 L88.99,175.36 L89.25,174.39 L89.41,173.77 M91.37,166.41 L91.56,165.69 L91.81,164.72 L92.07,163.76 L92.32,162.79 L92.58,161.82 L92.83,160.86 L93.09,159.89 L93.34,158.92 L93.34,158.92 M95.24,151.54 L95.33,151.17 L95.57,150.20 L95.80,149.23 L96.04,148.26 L96.27,147.29 L96.49,146.31 L96.72,145.34 L96.94,144.36 L97.02,144.00 M98.66,136.56 L98.66,136.55 L98.88,135.57 L99.10,134.60 L99.32,133.62 L99.55,132.65 L99.78,131.68 L100.01,130.70 L100.25,129.73 L100.42,129.02 M102.34,121.65 L102.51,121.02 L102.78,120.06 L103.05,119.10 L103.32,118.13 L103.59,117.17 L103.87,116.21 L104.15,115.25 L104.44,114.29 L104.47,114.19 M106.74,106.92 L106.83,106.66 L107.14,105.71 L107.46,104.76 L107.79,103.82 L108.11,102.87 L108.45,101.93 L108.78,100.99 L109.13,100.05 L109.29,99.61 M112.08,92.52 L112.44,91.69 L112.83,90.77 L113.24,89.86 L113.66,88.95 L114.09,88.05 L114.53,87.15 L114.98,86.26 L115.37,85.50 M119.27,78.97 L119.56,78.54 L120.14,77.73 L120.73,76.93 L121.34,76.15 L121.98,75.38 L122.63,74.63 L123.30,73.89 L123.99,73.18 L124.18,72.99 M130.12,68.25 L130.17,68.21 L131.02,67.69 L131.88,67.20 L132.76,66.72 L133.64,66.26 L134.54,65.83 L135.44,65.41 L136.35,65.00 L137.01,64.72 M144.16,62.09 L144.78,61.88 L145.73,61.56 L146.68,61.25 L147.63,60.94 L148.58,60.63 L149.53,60.32 L150.48,60.02 L151.44,59.71 L151.52,59.68 M158.82,57.49 L159.10,57.41 L160.06,57.15 L161.03,56.88 L161.99,56.63 L162.96,56.38 L163.93,56.13 L164.90,55.89 L165.87,55.67 L166.32,55.56 M173.81,54.16 L174.71,54.02 L175.70,53.88 L176.69,53.74 L177.68,53.61 L178.67,53.49 L179.67,53.37 L180.66,53.25 L181.49,53.16 M189.08,52.46 L189.62,52.42 L190.62,52.34 L191.61,52.27 L192.61,52.20 L193.61,52.13 L194.61,52.06 L195.60,51.99 L196.60,51.93 L196.81,51.91 M204.41,51.46 L204.59,51.45 L205.59,51.40 L206.59,51.35 L207.58,51.29 L208.58,51.24 L209.58,51.19 L210.58,51.14 L211.58,51.09 L212.15,51.07 M219.76,50.73 L220.57,50.70 L221.57,50.66 L222.57,50.62 L223.57,50.59 L224.57,50.55 L225.57,50.51 L226.57,50.48 L227.50,50.45 M235.11,50.21 L235.56,50.20 L236.56,50.17 L237.56,50.14 L238.56,50.11 L239.56,50.08 L240.56,50.06 L241.56,50.03 L242.56,50.00 L242.86,49.99 M250.47,49.77 L250.56,49.77 L251.56,49.74 L252.55,49.71 L253.55,49.68 L254.55,49.65 L255.55,49.63 L256.55,49.60 L257.55,49.57 L258.22,49.55 M265.84,49.36 L266.55,49.34 L267.55,49.32 L268.55,49.30 L269.55,49.28 L270.55,49.26 L271.55,49.24 L272.55,49.22 L273.55,49.21 L273.58,49.21 M281.19,49.12 L281.55,49.12 L282.55,49.11 L283.55,49.11 L284.55,49.11 L285.55,49.11 L286.55,49.10 L287.55,49.10 L288.55,49.10 L288.76,49.10 M296.20,49.10 L296.55,49.10 L297.55,49.10 L298.55,49.10 L299.55,49.10 L300.55,49.10 L301.55,49.10 L302.55,49.10 L303.55,49.10 L303.76,49.10 M311.20,49.10 L311.55,49.10 L312.55,49.10 L313.55,49.10 L314.55,49.10 L315.55,49.10 L316.55,49.10 L317.55,49.10 L318.55,49.10 L318.71,49.10 M326.10,49.10 L326.55,49.10 L327.55,49.10 L328.55,49.10 L329.55,49.10 L330.55,49.10 L331.55,49.10 L332.55,49.10 L333.55,49.10 L333.70,49.10" stroke="#00ff00"/>
<path d="M59.80,191.30 L60.16,190.37 L60.51,189.43 L60.87,188.50 L61.22,187.56 L61.57,186.62 L61.92,185.69 L62.26,184.75 L62.60,183.81 L62.62,183.72 M65.19,176.20 L65.48,175.28 L65.79,174.33 L66.10,173.38 L66.40,172.43 L66.69,171.47 L66.99,170.52 L67.28,169.56 L67.57,168.60 L67.61,168.49 M69.80,160.85 L70.04,159.95 L70.30,158.98 L70.55,158.02 L70.80,157.05 L71.05,156.08 L71.29,155.11 L71.53,154.14 L71.76,153.17 L71.80,153.02 M73.54,145.26 L73.72,144.38 L73.92,143.40 L74.12,142.42 L74.31,141.44 L74.51,140.46 L74.70,139.48 L74.88,138.50 L75.07,137.51 L75.10,137.33 M76.44,129.50 L76.57,128.64 L76.72,127.65 L76.87,126.66 L77.01,125.67 L77.15,124.68 L77.28,123.69 L77.41,122.70 L77.54,121.71 L77.57,121.49 M78.50,113.61 L78.59,112.77 L78.70,111.78 L78.82,110.78 L78.93,109.79 L79.05,108.80 L79.17,107.80 L79.29,106.81 L79.39,106.02 M80.44,98.59 L80.55,97.90 L80.71,96.92 L80.87,95.93 L81.04,94.94 L81.22,93.96 L81.40,92.98 L81.58,91.99 L81.76,91.01 L81.79,90.87 M83.30,83.30 L83.33,83.16 L83.53,82.19 L83.73,81.21 L83.94,80.23 L84.15,79.25 L84.36,78.27 L84.56,77.29 L84.77,76.32 L84.90,75.72 M86.62,68.30 L86.81,67.55 L87.06,66.58 L87.32,65.62 L87.59,64.66 L87.86,63.70 L88.14,62.74 L88.44,61.78 L88.74,60.83 L88.79,60.65 M91.46,53.30 L91.84,52.39 L92.23,51.47 L92.64,50.56 L93.06,49.65 L93.49,48.75 L93.93,47.85 L94.38,46.96 L94.84,46.08 L95.10,45.59 M99.76,38.65 L99.77,38.64 L100.43,37.90 L101.12,37.19 L101.83,36.50 L102.57,35.84 L103.33,35.21 L104.11,34.60 L104.92,34.03 L105.74,33.48 L106.25,33.16 M113.87,29.72 L114.78,29.44 L115.74,29.18 L116.70,28.94 L117.67,28.73 L118.65,28.55 L119.63,28.39 L120.62,28.25 L121.61,28.14 L122.22,28.08 M130.59,27.66 L131.58,27.65 L132.58,27.63 L133.58,27.62 L134.58,27.61 L135.58,27.61 L136.58,27.61 L137.58,27.60 L138.58,27.60 L139.12,27.60 M147.49,27.68 L147.58,27.68 L148.58,27.70 L149.58,27.74 L150.58,27.77 L151.58,27.82 L152.57,27.86 L153.57,27.92 L154.57,27.97 L155.17,28.01 M162.70,28.55 L163.55,28.61 L164.55,28.69 L165.54,28.76 L166.54,28.84 L167.54,28.91 L168.53,28.98 L169.53,29.05 L170.11,29.09 M177.40,29.61 L177.51,29.61 L178.51,29.68 L179.51,29.76 L180.50,29.83 L181.50,29.90 L182.50,29.97 L183.50,30.05 L184.49,30.12 L185.12,30.16 M192.70,30.71 L193.47,30.77 L194.47,30.84 L195.47,30.91 L196.46,30.98 L197.46,31.04 L198.46,31.11 L199.46,31.18 L200.21,31.23 M207.60,31.72 L208.44,31.78 L209.43,31.84 L210.43,31.91 L211.43,31.98 L212.43,32.04 L213.42,32.11 L214.42,32.18 L215.32,32.24 M222.89,32.81 L223.40,32.85 L224.39,32.94 L225.39,33.02 L226.39,33.10 L227.38,33.19 L228.38,33.27 L229.38,33.36 L230.31,33.44 M237.60,33.99 L238.35,34.03 L239.35,34.10 L240.35,34.15 L241.34,34.21 L242.34,34.26 L243.34,34.31 L244.34,34.36 L245.09,34.40 M252.46,34.72 L253.33,34.76 L254.33,34.80 L255.33,34.84 L256.33,34.87 L257.33,34.91 L258.33,34.95 L259.33,34.98 L259.96,35.00 M267.33,35.26 L268.32,35.29 L269.32,35.33 L270.32,35.36 L271.32,35.40 L272.32,35.43 L273.32,35.47 L274.32,35.50 L274.83,35.52 M282.20,35.79 L282.31,35.80 L283.31,35.84 L284.31,35.88 L285.31,35.92 L286.31,35.96 L287.31,36.00 L288.31,36.04 L289.31,36.08 L289.71,36.10 M297.10,36.41 L297.30,36.42 L298.30,36.46 L299.30,36.51 L300.30,36.55 L301.30,36.59 L302.29,36.64 L303.29,36.68 L304.29,36.73 L304.66,36.74 M312.10,37.07 L312.29,37.08 L313.28,37.12 L314.28,37.17 L315.28,37.21 L316.28,37.26 L317.28,37.30 L318.28,37.35 L319.28,37.40 L319.66,37.41 M327.10,37.76 L327.27,37.76 L328.27,37.81 L329.27,37.86 L330.27,37.90 L331.27,37.95 L332.26,38.00 L333.26,38.04 L334.26,38.09 L334.69,38.11" stroke="#0000ff"/>
<path d="M59.80,462.10 L60.47,461.36 L61.14,460.61 L61.81,459.87 L62.48,459.13 L63.16,458.40 L63.84,457.66 L64.51,456.93 L65.19,456.19 L65.88,455.46 L66.56,454.73 L67.24,454.00 L67.92,453.27 L68.61,452.54 L69.29,451.81 L69.98,451.08 L70.67,450.36 L71.37,449.64 L72.07,448.93 L72.77,448.22 L73.50,447.53 L74.24,446.86 L74.99,446.20 L75.71,445.51 L76.39,444.77 L77.02,444.00 L77.64,443.21 L78.23,442.41 L78.82,441.60 L79.41,440.79 L80.01,439.99 L80.61,439.19 L81.21,438.39 L81.80,437.58 L82.40,436.78 L82.99,435.97 L83.59,435.17 L84.18,434.37 L84.77,433.56 L85.37,432.76 L85.96,431.95 L86.55,431.15 L87.15,430.34 L87.74,429.54 L88.33,428.73 L88.93,427.93 L89.52,427.12 L90.11,426.32 L90.70,425.51 L91.30,424.71 L91.89,423.90 L92.48,423.09 L93.07,422.29 L93.67,421.48 L94.26,420.68 L94.85,419.87 L95.44,419.06 L96.03,418.26 L96.62,417.45 L97.21,416.64 L97.80,415.84 L98.39,415.03 L98.98,414.22 L99.57,413.42 L100.17,412.61 L100.76,411.80 L101.35,411.00 L101.95,410.20 L102.55,409.40 L103.16,408.60 L103.76,407.81 L104.38,407.02 L104.99,406.23 L105.61,405.45 L106.24,404.67 L106.87,403.90 L107.51,403.13 L108.15,402.36 L108.80,401.60 L109.45,400.84 L110.10,400.09 L110.76,399.34 L111.43,398.59 L112.10,397.85 L112.77,397.11 L113.44,396.37 L114.12,395.63 L114.80,394.90 L115.48,394.17 L116.16,393.44 L116.85,392.71 L117.53,391.99 L118.22,391.26 L118.91,390.53 L119.60,389.81 L120.29,389.09 L120.98,388.36 L121.67,387.63 L122.35,386.91 L123.04,386.18 L123.72,385.45 L124.40,384.72 L125.08,383.99 L125.76,383.25 L126.44,382.52 L127.11,381.78 L127.79,381.04 L128.46,380.30 L129.14,379.57 L129.81,378.83 L130.49,378.09 L131.16,377.35 L131.84,376.62 L132.52,375.88 L133.20,375.15 L133.89,374.42 L134.57,373.70 L135.26,372.97 L135.95,372.25 L136.64,371.53 L137.34,370.81 L138.03,370.09 L138.73,369.37 L139.43,368.66 L140.14,367.95 L140.84,367.24 L141.55,366.53 L142.26,365.83 L142.97,365.13 L143.68,364.42 L144.39,363.72 L145.11,363.02 L145.83,362.33 L146.54,361.63 L147.26,360.94 L147.99,360.25 L148.71,359.55 L149.43,358.86 L150.16,358.17 L150.88,357.49 L151.61,356.80 L152.33,356.11 L153.06,355.42 L153.79,354.74 L154.51,354.05 L155.24,353.36 L155.97,352.68 L156.70,352.00 L157.43,351.31 L158.16,350.63 L158.89,349.95 L159.63,349.27 L160.36,348.60 L161.10,347.92 L161.84,347.25 L162.59,346.59 L163.34,345.93 L164.09,345.27 L164.85,344.62 L165.61,343.97 L166.38,343.33 L167.15,342.70 L167.92,342.06 L168.70,341.44 L169.48,340.81 L170.27,340.20 L171.06,339.58 L171.85,338.97 L172.64,338.36 L173.43,337.75 L174.23,337.14 L175.02,336.54 L175.82,335.93 L176.61,335.33 L177.41,334.72 L178.20,334.12 L179.00,333.51 L179.79,332.90 L180.59,332.29 L181.38,331.68 L182.17,331.07 L182.96,330.46 L183.75,329.85 L184.54,329.24 L185.33,328.63 L186.13,328.01 L186.92,327.40 L187.71,326.79 L188.50,326.19 L189.30,325.58 L190.10,324.98 L190.89,324.37 L191.70,323.78 L192.50,323.18 L193.31,322.59 L194.11,322.00 L194.92,321.42 L195.74,320.84 L196.55,320.26 L197.37,319.69 L198.20,319.12 L199.02,318.56 L199.85,318.00 L200.68,317.44 L201.51,316.89 L202.35,316.35 L203.19,315.81 L204.04,315.27 L204.89,314.74 L205.74,314.22 L206.59,313.71 L207.45,313.20 L208.32,312.69 L209.18,312.20 L210.05,311.71 L210.93,311.22 L211.80,310.75 L212.69,310.27 L213.57,309.81 L214.46,309.35 L215.35,308.89 L216.24,308.44 L217.13,307.99 L218.03,307.55 L218.93,307.11 L219.83,306.68 L220.73,306.25 L221.63,305.82 L222.53,305.39 L223.44,304.97 L224.35,304.54 L225.25,304.12 L226.16,303.71 L227.07,303.29 L227.98,302.88 L228.90,302.47 L229.81,302.06 L230.72,301.66 L231.64,301.26 L232.56,300.86 L233.47,300.46 L234.39,300.07 L235.31,299.67 L236.23,299.28 L237.15,298.90 L238.08,298.51 L239.00,298.13 L239.93,297.75 L240.85,297.37 L241.78,297.00 L242.71,296.63 L243.64,296.26 L244.57,295.89 L245.50,295.52 L246.43,295.16 L247.36,294.80 L248.29,294.44 L249.23,294.08 L250.16,293.73 L251.10,293.37 L252.03,293.02 L252.97,292.67 L253.91,292.32 L254.84,291.97 L255.78,291.63 L256.72,291.28 L257.66,290.94 L258.60,290.60 L259.54,290.26 L260.48,289.92 L261.42,289.58 L262.37,289.25 L263.31,288.91 L264.25,288.58 L265.20,288.25 L266.14,287.92 L267.08,287.59 L268.03,287.27 L268.98,286.94 L269.92,286.62 L270.87,286.29 L271.81,285.97 L272.76,285.65 L273.71,285.33 L274.66,285.01 L275.60,284.69 L276.55,284.37 L277.50,284.06 L278.45,283.74 L279.40,283.43 L280.35,283.11 L281.30,282.80 L282.25,282.49 L283.20,282.18 L284.15,281.87 L285.10,281.56 L286.05,281.25 L287.00,280.95 L287.96,280.64 L288.91,280.34 L289.86,280.04 L290.82,279.74 L291.77,279.44 L292.73,279.15 L293.68,278.85 L294.64,278.56 L295.60,278.27 L296.55,277.98 L297.51,277.69 L298.47,277.41 L299.43,277.12 L300.39,276.84 L301.35,276.56 L302.31,276.28 L303.27,276.00 L304.23,275.73 L305.19,275.45 L306.15,275.18 L307.11,274.91 L308.08,274.64 L309.04,274.37 L310.00,274.10 L310.97,273.83 L311.93,273.57 L312.90,273.31 L313.86,273.04 L314.83,272.78 L315.79,272.53 L316.76,272.27 L317.73,272.02 L318.69,271.76 L319.66,271.51 L320.63,271.26 L321.60,271.02 L322.57,270.77 L323.54,270.53 L324.51,270.29 L325.48,270.05 L326.45,269.82 L327.43,269.59 L328.40,269.35 L329.37,269.13 L330.35,268.90 L331.32,268.68 L332.30,268.46 L333.27,268.24 L334.25,268.02 L335.22,267.80 L336.20,267.59 L336.60,267.50" stroke="#000000"/>
<path d="M59.80,462.00 L60.47,461.26 L61.14,460.51 L61.81,459.77 L62.48,459.03 L63.16,458.30 L63.84,457.56 L64.51,456.83 L65.19,456.09 L65.88,455.36 L66.56,454.63 L67.24,453.90 L67.92,453.17 L68.61,452.44 L69.29,451.71 L69.98,450.98 L70.67,450.26 L71.37,449.54 L72.07,448.83 L72.77,448.12 L73.50,447.43 L74.24,446.76 L74.99,446.10 L75.71,445.41 L76.39,444.67 L77.02,443.90 L77.64,443.11 L78.23,442.31 L78.82,441.50 L79.41,440.69 L80.01,439.89 L80.61,439.09 L81.21,438.29 L81.80,437.48 L82.40,436.68 L82.99,435.87 L83.59,435.07 L84.18,434.27 L84.77,433.46 L85.37,432.66 L85.96,431.85 L86.55,431.05 L87.15,430.24 L87.74,429.44 L88.33,428.63 L88.93,427.83 L89.52,427.02 L90.11,426.22 L90.70,425.41 L91.30,424.61 L91.89,423.80 L92.48,422.99 L93.07,422.19 L93.67,421.38 L94.26,420.58 L94.85,419.77 L95.44,418.96 L96.03,418.16 L96.62,417.35 L97.21,416.54 L97.80,415.74 L98.39,414.93 L98.98,414.12 L99.57,413.32 L100.17,412.51 L100.76,411.70 L101.35,410.90 L101.95,410.10 L102.55,409.30 L103.16,408.50 L103.76,407.71 L104.38,406.92 L104.99,406.13 L105.61,405.35 L106.24,404.57 L106.87,403.80 L107.51,403.03 L108.15,402.26 L108.80,401.50 L109.45,400.74 L110.10,399.99 L110.76,399.24 L111.43,398.49 L112.10,397.75 L112.77,397.01 L113.44,396.27 L114.12,395.53 L114.80,394.80 L115.48,394.07 L116.16,393.34 L116.85,392.61 L117.53,391.89 L118.22,391.16 L118.91,390.43 L119.60,389.71 L120.29,388.99 L120.98,388.26 L121.67,387.53 L122.35,386.81 L123.04,386.08 L123.72,385.35 L124.40,384.62 L125.08,383.89 L125.76,383.15 L126.44,382.42 L127.11,381.68 L127.79,380.94 L128.46,380.20 L129.14,379.47 L129.81,378.73 L130.49,377.99 L131.16,377.25 L131.84,376.52 L132.52,375.78 L133.20,375.05 L133.89,374.32 L134.57,373.60 L135.26,372.87 L135.95,372.15 L136.64,371.43 L137.34,370.71 L138.03,369.99 L138.73,369.27 L139.43,368.56 L140.14,367.85 L140.84,367.14 L141.55,366.43 L142.26,365.73 L142.97,365.03 L143.68,364.32 L144.39,363.62 L145.11,362.92 L145.83,362.23 L146.54,361.53 L147.26,360.84 L147.99,360.15 L148.71,359.45 L149.43,358.76 L150.16,358.07 L150.88,357.39 L151.61,356.70 L152.33,356.01 L153.06,355.32 L153.79,354.64 L154.51,353.95 L155.24,353.26 L155.97,352.58 L156.70,351.90 L157.43,351.21 L158.16,350.53 L158.89,349.85 L159.63,349.17 L160.36,348.50 L161.10,347.82 L161.84,347.15 L162.59,346.49 L163.34,345.83 L164.09,345.17 L164.85,344.52 L165.61,343.87 L166.38,343.23 L167.15,342.60 L167.92,341.96 L168.70,341.34 L169.48,340.71 L170.27,340.10 L171.06,339.48 L171.85,338.87 L172.64,338.26 L173.43,337.65 L174.23,337.04 L175.02,336.44 L175.82,335.83 L176.61,335.23 L177.41,334.62 L178.20,334.02 L179.00,333.41 L179.79,332.80 L180.59,332.19 L181.38,331.58 L182.17,330.97 L182.96,330.36 L183.75,329.75 L184.54,329.14 L185.33,328.53 L186.13,327.91 L186.92,327.30 L187.71,326.69 L188.50,326.09 L189.30,325.48 L190.10,324.88 L190.89,324.27 L191.70,323.68 L192.50,323.08 L193.31,322.49 L194.11,321.90 L194.92,321.32 L195.74,320.74 L196.55,320.16 L197.37,319.59 L198.20,319.02 L199.02,318.46 L199.85,317.90 L200.68,317.34 L201.51,316.79 L202.35,316.25 L203.19,315.71 L204.04,315.17 L204.89,314.64 L205.74,314.12 L206.59,313.61 L207.45,313.10 L208.32,312.59 L209.18,312.10 L210.05,311.61 L210.93,311.12 L211.80,310.65 L212.69,310.17 L213.57,309.71 L214.46,309.25 L215.35,308.79 L216.24,308.34 L217.13,307.89 L218.03,307.45 L218.93,307.01 L219.83,306.58 L220.73,306.15 L221.63,305.72 L222.53,305.29 L223.44,304.87 L224.35,304.44 L225.25,304.02 L226.16,303.61 L227.07,303.19 L227.98,302.78 L228.90,302.37 L229.81,301.96 L230.72,301.56 L231.64,301.16 L232.56,300.76 L233.47,300.36 L234.39,299.97 L235.31,299.57 L236.23,299.18 L237.15,298.80 L238.08,298.41 L239.00,298.03 L239.93,297.65 L240.85,297.27 L241.78,296.90 L242.71,296.53 L243.64,296.16 L244.57,295.79 L245.50,295.42 L246.43,295.06 L247.36,294.70 L248.29,294.34 L249.23,293.98 L250.16,293.63 L251.10,293.27 L252.03,292.92 L252.97,292.57 L253.91,292.22 L254.84,291.87 L255.78,291.53 L256.72,291.18 L257.66,290.84 L258.60,290.50 L259.54,290.16 L260.48,289.82 L261.42,289.48 L262.37,289.15 L263.31,288.81 L264.25,288.48 L265.20,288.15 L266.14,287.82 L267.08,287.49 L268.03,287.17 L268.98,286.84 L269.92,286.52 L270.87,286.19 L271.81,285.87 L272.76,285.55 L273.71,285.23 L274.66,284.91 L275.60,284.59 L276.55,284.27 L277.50,283.96 L278.45,283.64 L279.40,283.33 L280.35,283.01 L281.30,282.70 L282.25,282.39 L283.20,282.08 L284.15,281.77 L285.10,281.46 L286.05,281.15 L287.00,280.85 L287.96,280.54 L288.91,280.24 L289.86,279.94 L290.82,279.64 L291.77,279.34 L292.73,279.05 L293.68,278.75 L294.64,278.46 L295.60,278.17 L296.55,277.88 L297.51,277.59 L298.47,277.31 L299.43,277.02 L300.39,276.74 L301.35,276.46 L302.31,276.18 L303.27,275.90 L304.23,275.63 L305.19,275.35 L306.15,275.08 L307.11,274.81 L308.08,274.54 L309.04,274.27 L310.00,274.00 L310.97,273.73 L311.93,273.47 L312.90,273.21 L313.86,272.94 L314.83,272.68 L315.79,272.43 L316.76,272.17 L317.73,271.92 L318.69,271.66 L319.66,271.41 L320.63,271.16 L321.60,270.92 L322.57,270.67 L323.54,270.43 L324.51,270.19 L325.48,269.95 L326.45,269.72 L327.43,269.49 L328.40,269.25 L329.37,269.03 L330.35,268.80 L331.32,268.58 L332.30,268.36 L333.27,268.14 L334.25,267.92 L335.22,267.70 L336.20,267.49 L336.60,267.40" stroke="#a52a2a"/>
<path d="M59.80,461.90 L60.47,461.16 L61.14,460.41 L61.81,459.67 L62.48,458.93 L63.16,458.20 L63.84,457.46 L64.51,456.73 L65.19,455.99 L65.88,455.26 L66.56,454.53 L67.24,453.80 L67.92,453.07 L68.61,452.34 L69.29,451.61 L69.98,450.88 L70.67,450.16 L71.37,449.44 L72.07,448.73 L72.77,448.02 L73.50,447.33 L74.24,446.66 L74.99,446.00 L75.71,445.31 L76.39,444.57 L77.02,443.80 L77.64,443.01 L78.23,442.21 L78.82,441.40 L79.41,440.59 L80.01,439.79 L80.61,438.99 L81.21,438.19 L81.80,437.38 L82.40,436.58 L82.99,435.77 L83.59,434.97 L84.18,434.17 L84.77,433.36 L85.37,432.56 L85.96,431.75 L86.55,430.95 L87.15,430.14 L87.74,429.34 L88.33,428.53 L88.93,427.73 L89.52,426.92 L90.11,426.12 L90.70,425.31 L91.30,424.51 L91.89,423.70 L92.48,422.89 L93.07,422.09 L93.67,421.28 L94.26,420.48 L94.85,419.67 L95.44,418.86 L96.03,418.06 L96.62,417.25 L97.21,416.44 L97.80,415.64 L98.39,414.83 L98.98,414.02 L99.57,413.22 L100.17,412.41 L100.76,411.60 L101.35,410.80 L101.95,410.00 L102.55,409.20 L103.16,408.40 L103.76,407.61 L104.38,406.82 L104.99,406.03 L105.61,405.25 L106.24,404.47 L106.87,403.70 L107.51,402.93 L108.15,402.16 L108.80,401.40 L109.45,400.64 L110.10,399.89 L110.76,399.14 L111.43,398.39 L112.10,397.65 L112.77,396.91 L113.44,396.17 L114.12,395.43 L114.80,394.70 L115.48,393.97 L116.16,393.24 L116.85,392.51 L117.53,391.79 L118.22,391.06 L118.91,390.33 L119.60,389.61 L120.29,388.89 L120.98,388.16 L121.67,387.43 L122.35,386.71 L123.04,385.98 L123.72,385.25 L124.40,384.52 L125.08,383.79 L125.76,383.05 L126.44,382.32 L127.11,381.58 L127.79,380.84 L128.46,380.10 L129.14,379.37 L129.81,378.63 L130.49,377.89 L131.16,377.15 L131.84,376.42 L132.52,375.68 L133.20,374.95 L133.89,374.22 L134.57,373.50 L135.26,372.77 L135.95,372.05 L136.64,371.33 L137.34,370.61 L138.03,369.89 L138.73,369.17 L139.43,368.46 L140.14,367.75 L140.84,367.04 L141.55,366.33 L142.26,365.63 L142.97,364.93 L143.68,364.22 L144.39,363.52 L145.11,362.82 L145.83,362.13 L146.54,361.43 L147.26,360.74 L147.99,360.05 L148.71,359.35 L149.43,358.66 L150.16,357.97 L150.88,357.29 L151.61,356.60 L152.33,355.91 L153.06,355.22 L153.79,354.54 L154.51,353.85 L155.24,353.16 L155.97,352.48 L156.70,351.80 L157.43,351.11 L158.16,350.43 L158.89,349.75 L159.63,349.07 L160.36,348.40 L161.10,347.72 L161.84,347.05 L162.59,346.39 L163.34,345.73 L164.09,345.07 L164.85,344.42 L165.61,343.77 L166.38,343.13 L167.15,342.50 L167.92,341.86 L168.70,341.24 L169.48,340.61 L170.27,340.00 L171.06,339.38 L171.85,338.77 L172.64,338.16 L173.43,337.55 L174.23,336.94 L175.02,336.34 L175.82,335.73 L176.61,335.13 L177.41,334.52 L178.20,333.92 L179.00,333.31 L179.79,332.70 L180.59,332.09 L181.38,331.48 L182.17,330.87 L182.96,330.26 L183.75,329.65 L184.54,329.04 L185.33,328.43 L186.13,327.81 L186.92,327.20 L187.71,326.59 L188.50,325.99 L189.30,325.38 L190.10,324.78 L190.89,324.17 L191.70,323.58 L192.50,322.98 L193.31,322.39 L194.11,321.80 L194.92,321.22 L195.74,320.64 L196.55,320.06 L197.37,319.49 L198.20,318.92 L199.02,318.36 L199.85,317.80 L200.68,317.24 L201.51,316.69 L202.35,316.15 L203.19,315.61 L204.04,315.07 L204.89,314.54 L205.74,314.02 L206.59,313.51 L207.45,313.00 L208.32,312.49 L209.18,312.00 L210.05,311.51 L210.93,311.02 L211.80,310.55 L212.69,310.07 L213.57,309.61 L214.46,309.15 L215.35,308.69 L216.24,308.24 L217.13,307.79 L218.03,307.35 L218.93,306.91 L219.83,306.48 L220.73,306.05 L221.63,305.62 L222.53,305.19 L223.44,304.77 L224.35,304.34 L225.25,303.92 L226.16,303.51 L227.07,303.09 L227.98,302.68 L228.90,302.27 L229.81,301.86 L230.72,301.46 L231.64,301.06 L232.56,300.66 L233.47,300.26 L234.39,299.87 L235.31,299.47 L236.23,299.08 L237.15,298.70 L238.08,298.31 L239.00,297.93 L239.93,297.55 L240.85,297.17 L241.78,296.80 L242.71,296.43 L243.64,296.06 L244.57,295.69 L245.50,295.32 L246.43,294.96 L247.36,294.60 L248.29,294.24 L249.23,293.88 L250.16,293.53 L251.10,293.17 L252.03,292.82 L252.97,292.47 L253.91,292.12 L254.84,291.77 L255.78,291.43 L256.72,291.08 L257.66,290.74 L258.60,290.40 L259.54,290.06 L260.48,289.72 L261.42,289.38 L262.37,289.05 L263.31,288.71 L264.25,288.38 L265.20,288.05 L266.14,287.72 L267.08,287.39 L268.03,287.07 L268.98,286.74 L269.92,286.42 L270.87,286.09 L271.81,285.77 L272.76,285.45 L273.71,285.13 L274.66,284.81 L275.60,284.49 L276.55,284.17 L277.50,283.86 L278.45,283.54 L279.40,283.23 L280.35,282.91 L281.30,282.60 L282.25,282.29 L283.20,281.98 L284.15,281.67 L285.10,281.36 L286.05,281.05 L287.00,280.75 L287.96,280.44 L288.91,280.14 L289.86,279.84 L290.82,279.54 L291.77,279.24 L292.73,278.95 L293.68,278.65 L294.64,278.36 L295.60,278.07 L296.55,277.78 L297.51,277.49 L298.47,277.21 L299.43,276.92 L300.39,276.64 L301.35,276.36 L302.31,276.08 L303.27,275.80 L304.23,275.53 L305.19,275.25 L306.15,274.98 L307.11,274.71 L308.08,274.44 L309.04,274.17 L310.00,273.90 L310.97,273.63 L311.93,273.37 L312.90,273.11 L313.86,272.84 L314.83,272.58 L315.79,272.33 L316.76,272.07 L317.73,271.82 L318.69,271.56 L319.66,271.31 L320.63,271.06 L321.60,270.82 L322.57,270.57 L323.54,270.33 L324.51,270.09 L325.48,269.85 L326.45,269.62 L327.43,269.39 L328.40,269.15 L329.37,268.93 L330.35,268.70 L331.32,268.48 L332.30,268.26 L333.27,268.04 L334.25,267.82 L335.22,267.60 L336.20,267.39 L336.60,267.30" stroke="#ff0000"/>
<path d="M59.80,460.19 L60.46,459.43 L61.12,458.68 L61.78,457.93 L62.45,457.19 L63.12,456.44 L63.78,455.70 L64.46,454.96 L65.13,454.22 L65.81,453.48 L66.49,452.75 L67.17,452.02 L67.86,451.29 L68.55,450.57 L69.24,449.85 L69.94,449.13 L70.63,448.42 L71.33,447.70 L72.02,446.97 L72.71,446.25 L73.40,445.53 L74.10,444.81 L74.79,444.09 L75.46,443.35 L76.11,442.59 L76.73,441.80 L77.32,440.99 L77.90,440.18 L78.47,439.36 L79.04,438.53 L79.61,437.71 L80.20,436.90 L80.79,436.10 L81.38,435.29 L81.97,434.48 L82.57,433.68 L83.16,432.88 L83.76,432.07 L84.35,431.27 L84.95,430.47 L85.54,429.66 L86.13,428.86 L86.73,428.05 L87.33,427.25 L87.92,426.45 L88.52,425.65 L89.11,424.84 L89.71,424.04 L90.31,423.24 L90.91,422.44 L91.50,421.63 L92.10,420.83 L92.70,420.03 L93.30,419.23 L93.90,418.43 L94.49,417.63 L95.09,416.83 L95.69,416.02 L96.29,415.22 L96.88,414.42 L97.48,413.62 L98.07,412.81 L98.67,412.01 L99.27,411.21 L99.86,410.41 L100.46,409.60 L101.06,408.80 L101.66,408.01 L102.27,407.21 L102.87,406.41 L103.48,405.62 L104.10,404.83 L104.72,404.05 L105.34,403.27 L105.96,402.49 L106.60,401.72 L107.23,400.94 L107.87,400.18 L108.52,399.42 L109.17,398.66 L109.83,397.90 L110.48,397.15 L111.15,396.40 L111.81,395.66 L112.48,394.91 L113.15,394.17 L113.83,393.43 L114.50,392.70 L115.18,391.96 L115.86,391.23 L116.54,390.50 L117.23,389.77 L117.91,389.04 L118.59,388.31 L119.28,387.58 L119.96,386.85 L120.65,386.12 L121.33,385.39 L122.01,384.66 L122.69,383.93 L123.37,383.19 L124.04,382.46 L124.72,381.72 L125.39,380.98 L126.06,380.23 L126.72,379.49 L127.39,378.74 L128.06,378.00 L128.72,377.25 L129.38,376.50 L130.05,375.76 L130.72,375.01 L131.38,374.26 L132.05,373.52 L132.72,372.78 L133.39,372.04 L134.07,371.30 L134.75,370.57 L135.43,369.84 L136.11,369.11 L136.80,368.38 L137.49,367.66 L138.18,366.93 L138.87,366.21 L139.57,365.49 L140.26,364.78 L140.97,364.06 L141.67,363.35 L142.37,362.64 L143.08,361.94 L143.79,361.23 L144.50,360.53 L145.21,359.83 L145.93,359.13 L146.64,358.43 L147.36,357.74 L148.08,357.04 L148.81,356.35 L149.53,355.66 L150.25,354.97 L150.98,354.28 L151.70,353.60 L152.43,352.91 L153.16,352.22 L153.89,351.54 L154.62,350.85 L155.35,350.17 L156.08,349.49 L156.81,348.80 L157.54,348.12 L158.27,347.44 L159.01,346.77 L159.74,346.09 L160.48,345.42 L161.23,344.75 L161.97,344.08 L162.72,343.42 L163.47,342.76 L164.23,342.11 L164.98,341.46 L165.75,340.81 L166.52,340.17 L167.29,339.54 L168.06,338.91 L168.84,338.28 L169.62,337.66 L170.41,337.04 L171.20,336.42 L171.99,335.81 L172.78,335.20 L173.57,334.59 L174.37,333.99 L175.16,333.38 L175.96,332.78 L176.76,332.18 L177.56,331.58 L178.36,330.98 L179.16,330.38 L179.96,329.78 L180.76,329.17 L181.56,328.57 L182.36,327.97 L183.16,327.37 L183.96,326.77 L184.76,326.17 L185.56,325.58 L186.36,324.98 L187.16,324.38 L187.97,323.79 L188.77,323.20 L189.58,322.61 L190.39,322.03 L191.21,321.44 L192.02,320.87 L192.84,320.29 L193.66,319.72 L194.48,319.15 L195.31,318.59 L196.14,318.03 L196.97,317.47 L197.80,316.92 L198.64,316.38 L199.48,315.84 L200.32,315.30 L201.17,314.76 L202.01,314.24 L202.87,313.71 L203.72,313.20 L204.58,312.68 L205.44,312.17 L206.30,311.67 L207.17,311.17 L208.04,310.68 L208.91,310.19 L209.79,309.71 L210.67,309.24 L211.55,308.77 L212.43,308.30 L213.32,307.84 L214.21,307.38 L215.10,306.93 L215.99,306.48 L216.89,306.04 L217.79,305.60 L218.68,305.16 L219.59,304.73 L220.49,304.30 L221.39,303.87 L222.30,303.44 L223.20,303.02 L224.11,302.60 L225.02,302.19 L225.93,301.77 L226.84,301.36 L227.75,300.95 L228.67,300.54 L229.58,300.14 L230.50,299.74 L231.41,299.34 L232.33,298.94 L233.25,298.55 L234.17,298.15 L235.09,297.77 L236.01,297.38 L236.94,297.00 L237.86,296.62 L238.79,296.24 L239.71,295.87 L240.64,295.50 L241.57,295.13 L242.50,294.76 L243.43,294.40 L244.37,294.04 L245.30,293.68 L246.23,293.32 L247.17,292.97 L248.11,292.62 L249.04,292.27 L249.98,291.92 L250.92,291.58 L251.86,291.24 L252.80,290.89 L253.74,290.56 L254.68,290.22 L255.62,289.88 L256.57,289.55 L257.51,289.22 L258.45,288.89 L259.40,288.56 L260.34,288.24 L261.29,287.92 L262.24,287.59 L263.18,287.27 L264.13,286.95 L265.08,286.64 L266.03,286.32 L266.98,286.01 L267.93,285.70 L268.88,285.38 L269.83,285.07 L270.78,284.76 L271.73,284.46 L272.68,284.15 L273.64,283.84 L274.59,283.54 L275.54,283.24 L276.49,282.93 L277.45,282.63 L278.40,282.33 L279.36,282.03 L280.31,281.73 L281.26,281.43 L282.22,281.14 L283.17,280.84 L284.13,280.55 L285.09,280.25 L286.04,279.96 L287.00,279.67 L287.96,279.38 L288.91,279.09 L289.87,278.80 L290.83,278.51 L291.79,278.23 L292.75,277.95 L293.70,277.66 L294.66,277.38 L295.62,277.10 L296.58,276.82 L297.54,276.54 L298.51,276.27 L299.47,275.99 L300.43,275.72 L301.39,275.44 L302.35,275.17 L303.31,274.90 L304.28,274.63 L305.24,274.36 L306.20,274.09 L307.17,273.82 L308.13,273.56 L309.10,273.29 L310.06,273.03 L311.02,272.76 L311.99,272.50 L312.95,272.24 L313.92,271.98 L314.89,271.72 L315.85,271.47 L316.82,271.21 L317.79,270.96 L318.76,270.71 L319.72,270.46 L320.69,270.22 L321.66,269.97 L322.63,269.73 L323.60,269.49 L324.58,269.25 L325.55,269.02 L326.52,268.79 L327.49,268.56 L328.47,268.33 L329.44,268.11 L330.42,267.89 L331.39,267.67 L332.37,267.45 L333.35,267.24 L334.32,267.02 L335.30,266.81 L336.28,266.60 L336.60,266.53" stroke="#00ff00"/>
<path d="M59.80,458.81 L60.45,458.05 L61.10,457.30 L61.76,456.54 L62.42,455.79 L63.08,455.04 L63.74,454.29 L64.41,453.55 L65.08,452.80 L65.75,452.06 L66.43,451.33 L67.11,450.60 L67.80,449.87 L68.50,449.16 L69.20,448.44 L69.90,447.73 L70.60,447.02 L71.30,446.30 L71.98,445.57 L72.66,444.84 L73.33,444.09 L73.99,443.34 L74.64,442.58 L75.28,441.81 L75.90,441.03 L76.50,440.23 L77.08,439.41 L77.64,438.58 L78.19,437.75 L78.75,436.92 L79.30,436.09 L79.87,435.26 L80.45,434.45 L81.03,433.64 L81.62,432.83 L82.21,432.02 L82.81,431.22 L83.40,430.41 L84.00,429.61 L84.59,428.81 L85.19,428.01 L85.79,427.20 L86.38,426.40 L86.98,425.60 L87.58,424.79 L88.17,423.99 L88.77,423.19 L89.37,422.39 L89.98,421.59 L90.58,420.80 L91.18,420.00 L91.78,419.20 L92.38,418.40 L92.98,417.60 L93.59,416.80 L94.19,416.01 L94.79,415.21 L95.39,414.41 L96.00,413.61 L96.60,412.81 L97.20,412.01 L97.80,411.21 L98.40,410.42 L99.00,409.62 L99.61,408.82 L100.21,408.02 L100.81,407.22 L101.42,406.43 L102.02,405.63 L102.63,404.84 L103.24,404.05 L103.86,403.26 L104.48,402.48 L105.10,401.70 L105.73,400.92 L106.36,400.14 L107.00,399.37 L107.64,398.61 L108.29,397.85 L108.94,397.09 L109.59,396.33 L110.25,395.58 L110.91,394.83 L111.57,394.08 L112.24,393.34 L112.91,392.59 L113.58,391.85 L114.26,391.11 L114.93,390.38 L115.61,389.64 L116.29,388.91 L116.97,388.18 L117.65,387.44 L118.33,386.71 L119.01,385.98 L119.69,385.25 L120.37,384.51 L121.05,383.78 L121.73,383.04 L122.40,382.31 L123.08,381.57 L123.75,380.83 L124.41,380.08 L125.08,379.34 L125.74,378.59 L126.40,377.84 L127.06,377.09 L127.72,376.34 L128.38,375.58 L129.04,374.83 L129.69,374.07 L130.35,373.32 L131.01,372.57 L131.67,371.82 L132.33,371.07 L133.00,370.32 L133.66,369.58 L134.33,368.84 L135.01,368.10 L135.68,367.36 L136.36,366.63 L137.04,365.89 L137.72,365.16 L138.41,364.44 L139.10,363.71 L139.79,362.99 L140.49,362.27 L141.18,361.56 L141.88,360.84 L142.59,360.13 L143.29,359.42 L144.00,358.71 L144.71,358.01 L145.42,357.31 L146.13,356.61 L146.85,355.91 L147.57,355.21 L148.29,354.52 L149.01,353.83 L149.73,353.14 L150.46,352.45 L151.18,351.76 L151.91,351.08 L152.64,350.39 L153.37,349.71 L154.10,349.02 L154.83,348.34 L155.56,347.66 L156.29,346.97 L157.02,346.29 L157.76,345.62 L158.49,344.94 L159.23,344.26 L159.97,343.59 L160.71,342.92 L161.45,342.25 L162.20,341.59 L162.95,340.93 L163.71,340.27 L164.46,339.62 L165.23,338.97 L165.99,338.33 L166.76,337.69 L167.53,337.06 L168.31,336.43 L169.09,335.80 L169.87,335.18 L170.66,334.56 L171.44,333.95 L172.24,333.34 L173.03,332.73 L173.82,332.12 L174.62,331.52 L175.42,330.92 L176.22,330.32 L177.02,329.72 L177.82,329.12 L178.62,328.52 L179.43,327.93 L180.23,327.33 L181.04,326.74 L181.84,326.15 L182.65,325.56 L183.45,324.96 L184.26,324.38 L185.07,323.79 L185.88,323.20 L186.69,322.62 L187.50,322.04 L188.32,321.46 L189.14,320.88 L189.96,320.31 L190.78,319.74 L191.60,319.17 L192.43,318.61 L193.26,318.05 L194.09,317.50 L194.93,316.95 L195.76,316.41 L196.61,315.87 L197.45,315.33 L198.30,314.80 L199.14,314.27 L200.00,313.75 L200.85,313.23 L201.71,312.72 L202.57,312.21 L203.43,311.70 L204.30,311.20 L205.16,310.70 L206.03,310.21 L206.91,309.73 L207.78,309.24 L208.66,308.77 L209.54,308.29 L210.42,307.82 L211.31,307.36 L212.19,306.90 L213.08,306.44 L213.97,305.99 L214.87,305.54 L215.76,305.09 L216.66,304.65 L217.56,304.21 L218.46,303.78 L219.36,303.34 L220.26,302.91 L221.17,302.49 L222.07,302.06 L222.98,301.64 L223.89,301.23 L224.80,300.81 L225.71,300.40 L226.62,299.99 L227.53,299.58 L228.44,299.17 L229.36,298.77 L230.28,298.37 L231.19,297.97 L232.11,297.58 L233.03,297.19 L233.95,296.80 L234.88,296.41 L235.80,296.03 L236.73,295.65 L237.65,295.28 L238.58,294.90 L239.51,294.53 L240.44,294.17 L241.37,293.80 L242.30,293.44 L243.24,293.08 L244.17,292.73 L245.11,292.37 L246.04,292.02 L246.98,291.68 L247.92,291.33 L248.86,290.99 L249.80,290.65 L250.74,290.31 L251.68,289.98 L252.62,289.65 L253.57,289.32 L254.51,288.99 L255.46,288.66 L256.40,288.34 L257.35,288.02 L258.30,287.70 L259.25,287.38 L260.20,287.06 L261.14,286.75 L262.10,286.44 L263.05,286.13 L264.00,285.82 L264.95,285.52 L265.90,285.21 L266.85,284.91 L267.81,284.61 L268.76,284.31 L269.72,284.01 L270.67,283.71 L271.63,283.42 L272.58,283.12 L273.54,282.83 L274.49,282.53 L275.45,282.24 L276.41,281.95 L277.36,281.66 L278.32,281.37 L279.28,281.08 L280.24,280.80 L281.20,280.51 L282.15,280.23 L283.11,279.94 L284.07,279.66 L285.03,279.38 L285.99,279.10 L286.95,278.82 L287.91,278.54 L288.87,278.26 L289.83,277.98 L290.79,277.71 L291.75,277.43 L292.72,277.16 L293.68,276.88 L294.64,276.61 L295.60,276.34 L296.57,276.07 L297.53,275.80 L298.49,275.53 L299.45,275.26 L300.42,274.99 L301.38,274.72 L302.34,274.45 L303.31,274.19 L304.27,273.92 L305.24,273.66 L306.20,273.39 L307.16,273.13 L308.13,272.86 L309.09,272.60 L310.06,272.34 L311.03,272.08 L311.99,271.82 L312.96,271.56 L313.92,271.30 L314.89,271.05 L315.86,270.79 L316.82,270.54 L317.79,270.29 L318.76,270.04 L319.73,269.79 L320.70,269.55 L321.67,269.31 L322.64,269.07 L323.61,268.83 L324.58,268.60 L325.56,268.36 L326.53,268.13 L327.50,267.91 L328.48,267.68 L329.45,267.46 L330.43,267.25 L331.40,267.03 L332.38,266.82 L333.36,266.60 L334.34,266.40 L335.31,266.19 L336.29,265.98 L336.60,265.91" stroke="#0000ff"/>
<path d="M59.80,457.00 L60.44,456.23 L61.08,455.47 L61.73,454.70 L62.38,453.94 L63.03,453.19 L63.69,452.43 L64.35,451.68 L65.02,450.93 L65.68,450.19 L66.36,449.45 L67.04,448.72 L67.73,448.00 L68.43,447.29 L69.14,446.58 L69.85,445.88 L70.56,445.17 L71.25,444.45 L71.93,443.72 L72.60,442.97 L73.24,442.21 L73.87,441.42 L74.47,440.63 L75.06,439.82 L75.64,439.01 L76.22,438.19 L76.77,437.35 L77.31,436.51 L77.84,435.67 L78.37,434.82 L78.90,433.97 L79.45,433.13 L80.00,432.30 L80.57,431.48 L81.15,430.66 L81.74,429.85 L82.33,429.04 L82.92,428.24 L83.52,427.44 L84.12,426.64 L84.71,425.83 L85.31,425.03 L85.91,424.23 L86.50,423.43 L87.10,422.63 L87.70,421.83 L88.31,421.03 L88.91,420.23 L89.51,419.44 L90.12,418.64 L90.73,417.85 L91.33,417.05 L91.94,416.26 L92.55,415.46 L93.16,414.67 L93.77,413.88 L94.38,413.08 L94.98,412.29 L95.59,411.50 L96.20,410.70 L96.81,409.91 L97.42,409.12 L98.03,408.32 L98.63,407.53 L99.24,406.73 L99.85,405.94 L100.46,405.15 L101.07,404.35 L101.68,403.56 L102.29,402.77 L102.91,401.99 L103.53,401.20 L104.15,400.42 L104.77,399.64 L105.40,398.86 L106.04,398.09 L106.67,397.32 L107.31,396.55 L107.96,395.79 L108.61,395.03 L109.26,394.27 L109.92,393.52 L110.58,392.77 L111.24,392.02 L111.90,391.27 L112.57,390.53 L113.24,389.78 L113.91,389.04 L114.59,388.30 L115.26,387.57 L115.94,386.83 L116.61,386.09 L117.29,385.36 L117.97,384.62 L118.64,383.88 L119.32,383.15 L119.99,382.41 L120.67,381.67 L121.34,380.93 L122.01,380.19 L122.68,379.45 L123.34,378.70 L124.01,377.95 L124.66,377.20 L125.32,376.45 L125.97,375.69 L126.63,374.93 L127.28,374.17 L127.92,373.41 L128.57,372.65 L129.22,371.88 L129.86,371.12 L130.51,370.36 L131.16,369.60 L131.81,368.84 L132.46,368.09 L133.12,367.33 L133.78,366.58 L134.44,365.83 L135.10,365.08 L135.77,364.34 L136.44,363.60 L137.12,362.86 L137.80,362.13 L138.48,361.39 L139.16,360.66 L139.85,359.94 L140.54,359.21 L141.23,358.49 L141.92,357.77 L142.62,357.06 L143.32,356.34 L144.03,355.63 L144.73,354.93 L145.44,354.22 L146.15,353.52 L146.87,352.82 L147.59,352.12 L148.30,351.43 L149.03,350.74 L149.75,350.05 L150.47,349.36 L151.20,348.67 L151.93,347.99 L152.66,347.30 L153.39,346.62 L154.12,345.94 L154.85,345.25 L155.58,344.57 L156.32,343.89 L157.05,343.22 L157.79,342.54 L158.52,341.86 L159.26,341.19 L160.01,340.52 L160.75,339.85 L161.50,339.19 L162.25,338.53 L163.00,337.87 L163.75,337.22 L164.51,336.57 L165.27,335.92 L166.04,335.28 L166.81,334.64 L167.58,334.01 L168.36,333.38 L169.14,332.75 L169.92,332.13 L170.71,331.51 L171.50,330.90 L172.29,330.29 L173.08,329.68 L173.88,329.07 L174.67,328.47 L175.47,327.87 L176.28,327.27 L177.08,326.68 L177.89,326.09 L178.69,325.50 L179.50,324.91 L180.31,324.32 L181.12,323.74 L181.94,323.16 L182.75,322.58 L183.57,322.00 L184.39,321.42 L185.21,320.85 L186.03,320.28 L186.85,319.72 L187.68,319.15 L188.51,318.59 L189.34,318.04 L190.17,317.49 L191.00,316.94 L191.84,316.39 L192.68,315.85 L193.53,315.32 L194.38,314.79 L195.23,314.26 L196.08,313.74 L196.94,313.23 L197.79,312.71 L198.65,312.21 L199.52,311.70 L200.38,311.20 L201.25,310.71 L202.12,310.22 L203.00,309.73 L203.87,309.25 L204.75,308.77 L205.63,308.30 L206.51,307.82 L207.39,307.35 L208.28,306.89 L209.16,306.43 L210.05,305.97 L210.94,305.51 L211.83,305.06 L212.73,304.61 L213.62,304.16 L214.52,303.71 L215.41,303.27 L216.31,302.83 L217.21,302.40 L218.11,301.97 L219.01,301.54 L219.92,301.11 L220.82,300.68 L221.73,300.26 L222.64,299.84 L223.55,299.42 L224.46,299.01 L225.37,298.60 L226.28,298.19 L227.19,297.78 L228.11,297.38 L229.02,296.98 L229.94,296.58 L230.86,296.19 L231.78,295.80 L232.70,295.41 L233.62,295.02 L234.55,294.64 L235.47,294.26 L236.40,293.89 L237.33,293.52 L238.26,293.15 L239.19,292.78 L240.12,292.42 L241.05,292.06 L241.99,291.71 L242.93,291.36 L243.86,291.01 L244.80,290.66 L245.74,290.32 L246.68,289.98 L247.62,289.65 L248.56,289.31 L249.51,288.98 L250.45,288.65 L251.40,288.33 L252.34,288.01 L253.29,287.69 L254.24,287.37 L255.19,287.06 L256.14,286.74 L257.09,286.43 L258.04,286.13 L258.99,285.82 L259.95,285.52 L260.90,285.22 L261.86,284.92 L262.81,284.63 L263.77,284.34 L264.72,284.04 L265.68,283.75 L266.64,283.47 L267.60,283.18 L268.56,282.90 L269.51,282.61 L270.47,282.33 L271.43,282.05 L272.39,281.77 L273.35,281.49 L274.32,281.22 L275.28,280.94 L276.24,280.66 L277.20,280.39 L278.16,280.12 L279.12,279.85 L280.09,279.58 L281.05,279.31 L282.01,279.04 L282.98,278.77 L283.94,278.50 L284.90,278.23 L285.87,277.97 L286.83,277.70 L287.80,277.44 L288.76,277.18 L289.73,276.91 L290.69,276.65 L291.66,276.39 L292.62,276.13 L293.59,275.87 L294.55,275.60 L295.52,275.34 L296.48,275.08 L297.45,274.82 L298.41,274.56 L299.38,274.30 L300.34,274.04 L301.31,273.78 L302.28,273.52 L303.24,273.26 L304.21,273.00 L305.17,272.74 L306.14,272.48 L307.10,272.22 L308.07,271.97 L309.04,271.71 L310.00,271.45 L310.97,271.19 L311.93,270.93 L312.90,270.68 L313.87,270.42 L314.84,270.17 L315.80,269.92 L316.77,269.67 L317.74,269.42 L318.71,269.17 L319.68,268.93 L320.65,268.69 L321.62,268.44 L322.59,268.21 L323.56,267.97 L324.53,267.74 L325.51,267.51 L326.48,267.28 L327.46,267.06 L328.43,266.84 L329.41,266.62 L330.38,266.41 L331.36,266.20 L332.34,265.99 L333.32,265.78 L334.30,265.58 L335.27,265.37 L336.25,265.17 L336.60,265.10" stroke="#c8c800"/>
<path d="M59.80,454.30 L60.61,453.71 L61.39,453.08 L62.15,452.44 L62.89,451.77 L63.62,451.08 L64.33,450.38 L65.03,449.67 L65.72,448.94 L65.74,448.92 M70.62,442.56 L71.15,441.78 L71.73,440.96 L72.31,440.14 L72.90,439.34 L73.50,438.54 L74.12,437.76 L74.74,436.97 L75.36,436.18 L75.40,436.12 M79.75,429.38 L80.25,428.64 L80.84,427.82 L81.43,427.02 L82.04,426.22 L82.65,425.43 L83.26,424.64 L83.87,423.85 L84.48,423.06 L84.56,422.96 M89.38,416.55 L89.89,415.86 L90.48,415.06 L91.07,414.25 L91.65,413.44 L92.24,412.63 L92.82,411.82 L93.40,411.01 L93.98,410.19 L94.09,410.05 M98.80,403.55 L99.27,402.91 L99.87,402.11 L100.47,401.31 L101.07,400.51 L101.68,399.72 L102.29,398.92 L102.90,398.13 L103.51,397.34 L103.65,397.16 M108.65,390.88 L109.12,390.31 L109.76,389.53 L110.39,388.76 L111.03,387.99 L111.67,387.22 L112.31,386.46 L112.96,385.70 L113.61,384.93 L113.79,384.72 M119.08,378.69 L119.54,378.17 L120.21,377.43 L120.89,376.69 L121.56,375.95 L122.23,375.21 L122.91,374.47 L123.58,373.73 L124.25,373.00 L124.48,372.75 M129.91,366.84 L130.34,366.37 L131.02,365.64 L131.71,364.90 L132.39,364.17 L133.07,363.44 L133.76,362.72 L134.44,361.99 L135.13,361.26 L135.40,360.98 M140.95,355.19 L141.36,354.77 L142.06,354.05 L142.76,353.34 L143.46,352.62 L144.16,351.91 L144.86,351.19 L145.56,350.48 L146.26,349.77 L146.57,349.46 M152.28,343.82 L152.67,343.45 L153.39,342.76 L154.12,342.08 L154.85,341.40 L155.59,340.73 L156.33,340.06 L157.08,339.39 L157.83,338.73 L158.21,338.41 M164.41,333.32 L164.78,333.03 L165.57,332.42 L166.37,331.82 L167.17,331.22 L167.97,330.62 L168.78,330.04 L169.59,329.45 L170.41,328.87 L170.86,328.55 M177.52,324.07 L177.87,323.85 L178.71,323.31 L179.55,322.77 L180.40,322.24 L181.24,321.71 L182.09,321.18 L182.95,320.65 L183.80,320.13 L184.32,319.82 M191.24,315.76 L191.56,315.58 L192.43,315.08 L193.30,314.59 L194.17,314.10 L195.04,313.61 L195.91,313.12 L196.79,312.64 L197.66,312.16 L198.25,311.84 M205.30,308.01 L205.57,307.86 L206.45,307.39 L207.33,306.92 L208.22,306.44 L209.10,305.97 L209.98,305.50 L210.86,305.02 L211.74,304.55 L212.37,304.21 M219.49,300.50 L219.71,300.38 L220.61,299.94 L221.51,299.50 L222.41,299.06 L223.31,298.63 L224.21,298.21 L225.12,297.79 L226.03,297.38 L226.75,297.06 M234.14,293.94 L234.31,293.87 L235.24,293.49 L236.17,293.12 L237.10,292.75 L238.02,292.38 L238.95,292.01 L239.88,291.64 L240.81,291.27 L241.60,290.96 M249.08,288.05 L249.20,288.00 L250.13,287.65 L251.07,287.29 L252.00,286.94 L252.94,286.59 L253.87,286.23 L254.81,285.88 L255.75,285.54 L256.59,285.22 M264.15,282.51 L264.21,282.48 L265.16,282.16 L266.10,281.83 L267.05,281.51 L268.00,281.19 L268.95,280.88 L269.90,280.57 L270.85,280.26 L271.76,279.96 M279.44,277.61 L279.45,277.61 L280.41,277.33 L281.37,277.05 L282.33,276.77 L283.29,276.49 L284.25,276.22 L285.21,275.95 L286.18,275.67 L287.14,275.41 L287.16,275.40 M294.91,273.30 L295.82,273.05 L296.79,272.80 L297.76,272.54 L298.73,272.29 L299.69,272.04 L300.66,271.78 L301.63,271.53 L302.60,271.28 L302.67,271.26 M310.45,269.28 L311.32,269.07 L312.29,268.83 L313.26,268.59 L314.23,268.35 L315.21,268.12 L316.18,267.88 L317.15,267.65 L318.12,267.43 L318.26,267.39 M326.10,265.67 L326.91,265.51 L327.90,265.31 L328.88,265.12 L329.86,264.93 L330.84,264.74 L331.82,264.56 L332.81,264.38 L333.79,264.20 L333.96,264.17" stroke="#000000"/>
<path d="M59.80,452.90 L60.49,452.18 L61.18,451.45 L61.85,450.71 L62.52,449.97 L63.18,449.21 L63.83,448.45 L64.47,447.69 L65.10,446.92 L65.16,446.85 M69.99,440.38 L70.47,439.69 L71.04,438.87 L71.60,438.04 L72.17,437.22 L72.73,436.39 L73.30,435.57 L73.86,434.74 L74.42,433.91 L74.55,433.71 M78.83,426.85 L79.18,426.28 L79.72,425.43 L80.27,424.60 L80.84,423.78 L81.41,422.96 L82.00,422.15 L82.59,421.34 L83.18,420.54 L83.42,420.21 M88.23,413.72 L88.54,413.31 L89.14,412.51 L89.74,411.71 L90.34,410.91 L90.94,410.11 L91.54,409.31 L92.15,408.51 L92.75,407.72 L93.09,407.26 M98.02,400.86 L98.23,400.58 L98.85,399.79 L99.47,399.01 L100.09,398.22 L100.71,397.44 L101.33,396.65 L101.95,395.87 L102.57,395.09 L103.03,394.52 M108.07,388.20 L108.19,388.05 L108.81,387.27 L109.43,386.49 L110.06,385.71 L110.68,384.93 L111.31,384.14 L111.93,383.37 L112.56,382.59 L113.12,381.89 M118.26,375.66 L118.28,375.64 L118.92,374.87 L119.56,374.11 L120.21,373.34 L120.85,372.57 L121.49,371.81 L122.13,371.04 L122.77,370.27 L123.40,369.50 L123.44,369.46 M128.54,363.19 L129.09,362.52 L129.72,361.75 L130.36,360.98 L131.00,360.21 L131.64,359.45 L132.29,358.69 L132.95,357.94 L133.61,357.19 L133.75,357.02 M139.29,351.13 L139.78,350.65 L140.48,349.94 L141.20,349.24 L141.91,348.54 L142.63,347.85 L143.36,347.16 L144.09,346.48 L144.82,345.80 L145.11,345.53 M151.14,340.15 L151.53,339.81 L152.29,339.15 L153.05,338.50 L153.81,337.86 L154.57,337.21 L155.34,336.57 L156.10,335.92 L156.87,335.28 L157.31,334.93 M163.64,329.91 L163.92,329.70 L164.72,329.10 L165.53,328.51 L166.34,327.93 L167.16,327.36 L167.98,326.78 L168.80,326.22 L169.63,325.66 L170.24,325.25 M177.07,320.93 L177.22,320.83 L178.07,320.32 L178.93,319.80 L179.79,319.29 L180.65,318.78 L181.51,318.27 L182.37,317.77 L183.24,317.27 L184.03,316.82 M191.07,312.86 L191.08,312.85 L191.96,312.37 L192.83,311.89 L193.71,311.41 L194.59,310.93 L195.47,310.45 L196.35,309.98 L197.23,309.50 L198.11,309.03 L198.17,308.99 M205.30,305.20 L206.05,304.80 L206.94,304.34 L207.83,303.88 L208.71,303.41 L209.60,302.95 L210.49,302.49 L211.38,302.04 L212.27,301.58 L212.40,301.51 M219.56,297.95 L220.33,297.58 L221.23,297.15 L222.14,296.73 L223.04,296.31 L223.95,295.89 L224.86,295.48 L225.78,295.07 L226.69,294.67 L226.83,294.61 M234.21,291.52 L234.99,291.20 L235.92,290.83 L236.85,290.46 L237.78,290.09 L238.71,289.72 L239.64,289.36 L240.57,288.99 L241.50,288.63 L241.64,288.58 M249.13,285.74 L249.92,285.45 L250.86,285.11 L251.80,284.77 L252.74,284.43 L253.68,284.09 L254.63,283.76 L255.57,283.43 L256.51,283.10 L256.66,283.05 M264.24,280.51 L265.05,280.25 L266.00,279.95 L266.95,279.64 L267.91,279.34 L268.86,279.04 L269.82,278.75 L270.77,278.45 L271.73,278.16 L271.87,278.12 M279.54,275.84 L280.36,275.60 L281.32,275.32 L282.28,275.05 L283.24,274.77 L284.20,274.50 L285.17,274.23 L286.13,273.96 L287.09,273.69 L287.24,273.65 M294.96,271.57 L295.78,271.36 L296.75,271.11 L297.72,270.86 L298.69,270.61 L299.66,270.36 L300.63,270.11 L301.60,269.87 L302.57,269.63 L302.71,269.59 M310.48,267.69 L311.31,267.50 L312.28,267.27 L313.26,267.04 L314.23,266.81 L315.20,266.59 L316.18,266.36 L317.15,266.14 L318.13,265.93 L318.27,265.89 M326.10,264.24 L326.94,264.07 L327.92,263.88 L328.90,263.69 L329.88,263.51 L330.86,263.33 L331.85,263.15 L332.83,262.97 L333.82,262.79 L333.96,262.77" stroke="#a52a2a"/>
<path d="M59.80,451.10 L60.45,450.34 L61.09,449.57 L61.72,448.79 L62.34,448.01 L62.95,447.22 L63.56,446.42 L64.16,445.62 L64.75,444.82 L64.84,444.70 M69.35,437.92 L69.71,437.31 L70.23,436.46 L70.75,435.61 L71.27,434.75 L71.80,433.90 L72.33,433.05 L72.86,432.21 L73.41,431.37 L73.66,431.00 M78.05,424.14 L78.26,423.79 L78.78,422.94 L79.30,422.08 L79.84,421.24 L80.40,420.41 L80.97,419.59 L81.55,418.78 L82.14,417.97 L82.58,417.37 M87.42,410.82 L87.48,410.73 L88.07,409.92 L88.67,409.12 L89.26,408.31 L89.85,407.51 L90.45,406.70 L91.04,405.90 L91.63,405.09 L92.22,404.28 L92.24,404.25 M97.02,397.65 L97.49,396.99 L98.08,396.18 L98.66,395.36 L99.24,394.55 L99.82,393.74 L100.40,392.92 L100.98,392.11 L101.57,391.30 L101.76,391.02 M106.48,384.38 L106.78,383.96 L107.36,383.14 L107.94,382.33 L108.52,381.51 L109.10,380.70 L109.68,379.89 L110.26,379.07 L110.85,378.26 L111.22,377.75 M116.11,371.23 L116.24,371.06 L116.85,370.28 L117.48,369.49 L118.10,368.71 L118.73,367.93 L119.36,367.16 L119.99,366.38 L120.63,365.61 L121.22,364.89 M126.52,358.70 L127.13,358.02 L127.79,357.27 L128.46,356.53 L129.13,355.79 L129.81,355.05 L130.49,354.32 L131.17,353.59 L131.86,352.87 L132.03,352.70 M137.85,346.99 L138.29,346.58 L139.03,345.91 L139.77,345.23 L140.51,344.57 L141.26,343.90 L142.01,343.24 L142.76,342.59 L143.52,341.93 L143.93,341.58 M150.20,336.37 L150.43,336.18 L151.21,335.54 L151.99,334.91 L152.76,334.29 L153.54,333.66 L154.32,333.03 L155.09,332.40 L155.87,331.77 L156.53,331.24 M162.97,326.24 L163.77,325.65 L164.58,325.07 L165.40,324.50 L166.22,323.94 L167.05,323.38 L167.89,322.83 L168.73,322.29 L169.57,321.76 L169.71,321.67 M176.73,317.54 L177.33,317.21 L178.20,316.72 L179.07,316.23 L179.94,315.75 L180.82,315.26 L181.69,314.78 L182.57,314.30 L183.45,313.81 L183.86,313.59 M191.03,309.72 L191.37,309.54 L192.25,309.07 L193.13,308.60 L194.02,308.14 L194.90,307.67 L195.79,307.21 L196.68,306.75 L197.56,306.28 L198.24,305.93 M205.50,302.22 L205.57,302.19 L206.47,301.74 L207.36,301.29 L208.26,300.84 L209.15,300.39 L210.05,299.95 L210.94,299.50 L211.84,299.06 L212.63,298.68 M219.81,295.25 L219.96,295.18 L220.87,294.77 L221.78,294.36 L222.69,293.95 L223.61,293.55 L224.53,293.16 L225.44,292.76 L226.37,292.37 L227.11,292.07 M234.50,289.12 L234.72,289.03 L235.65,288.67 L236.59,288.31 L237.52,287.96 L238.45,287.60 L239.39,287.24 L240.32,286.89 L241.26,286.53 L241.94,286.28 M249.40,283.51 L249.70,283.40 L250.64,283.07 L251.58,282.73 L252.52,282.40 L253.47,282.07 L254.41,281.74 L255.36,281.42 L256.30,281.10 L256.92,280.89 M264.49,278.45 L264.87,278.33 L265.82,278.04 L266.78,277.74 L267.73,277.45 L268.69,277.16 L269.65,276.87 L270.60,276.58 L271.56,276.29 L272.10,276.13 M279.73,273.86 L280.19,273.72 L281.15,273.44 L282.11,273.16 L283.07,272.88 L284.03,272.61 L284.99,272.33 L285.95,272.06 L286.91,271.78 L287.38,271.65 M295.06,269.56 L295.60,269.42 L296.56,269.16 L297.53,268.91 L298.50,268.67 L299.47,268.42 L300.44,268.18 L301.41,267.94 L302.38,267.70 L302.78,267.60 M310.52,265.76 L311.14,265.62 L312.11,265.40 L313.09,265.18 L314.06,264.96 L315.04,264.75 L316.02,264.53 L316.99,264.32 L317.97,264.11 L318.29,264.05 M326.10,262.49 L326.80,262.36 L327.78,262.18 L328.77,262.01 L329.75,261.83 L330.74,261.66 L331.72,261.50 L332.71,261.33 L333.69,261.17 L333.98,261.12" stroke="#ff0000"/>
<path d="M59.80,447.60 L60.19,446.68 L60.59,445.76 L61.00,444.85 L61.41,443.94 L61.82,443.03 L62.25,442.12 L62.68,441.22 L63.12,440.32 L63.20,440.17 M67.35,433.14 L67.74,432.61 L68.36,431.83 L69.00,431.06 L69.65,430.30 L70.31,429.55 L70.97,428.80 L71.62,428.04 L72.25,427.27 L72.57,426.86 M77.24,420.16 L77.41,419.90 L77.97,419.06 L78.52,418.23 L79.07,417.39 L79.62,416.56 L80.18,415.73 L80.74,414.90 L81.30,414.07 L81.78,413.37 M86.39,406.62 L86.94,405.82 L87.51,404.99 L88.07,404.17 L88.64,403.35 L89.21,402.52 L89.78,401.70 L90.35,400.88 L90.92,400.06 L91.03,399.90 M95.74,393.22 L96.11,392.70 L96.69,391.89 L97.27,391.08 L97.86,390.27 L98.44,389.45 L99.03,388.64 L99.61,387.83 L100.20,387.02 L100.51,386.59 M105.26,379.94 L105.43,379.70 L106.00,378.88 L106.56,378.05 L107.12,377.23 L107.68,376.40 L108.24,375.57 L108.80,374.74 L109.36,373.91 L109.84,373.18 M114.52,366.48 L115.08,365.73 L115.68,364.93 L116.30,364.14 L116.92,363.36 L117.54,362.58 L118.18,361.81 L118.82,361.05 L119.47,360.29 L119.63,360.11 M125.19,354.13 L125.60,353.72 L126.31,353.02 L127.03,352.32 L127.75,351.63 L128.47,350.94 L129.20,350.26 L129.94,349.58 L130.68,348.91 L131.12,348.51 M137.27,343.13 L137.45,342.99 L138.21,342.34 L138.98,341.70 L139.75,341.06 L140.52,340.42 L141.29,339.79 L142.07,339.16 L142.84,338.53 L143.58,337.94 M150.01,332.90 L150.71,332.36 L151.50,331.74 L152.28,331.13 L153.07,330.51 L153.85,329.89 L154.64,329.27 L155.42,328.64 L156.19,328.01 L156.42,327.83 M162.80,322.73 L163.22,322.41 L164.02,321.81 L164.82,321.21 L165.63,320.63 L166.44,320.05 L167.26,319.48 L168.09,318.92 L168.92,318.36 L169.46,318.01 M176.45,313.77 L176.59,313.69 L177.46,313.20 L178.34,312.71 L179.21,312.23 L180.09,311.76 L180.98,311.28 L181.86,310.82 L182.74,310.35 L183.63,309.90 L183.64,309.89 M190.95,306.26 L191.69,305.90 L192.59,305.46 L193.50,305.03 L194.40,304.59 L195.30,304.16 L196.20,303.73 L197.10,303.30 L198.00,302.87 L198.32,302.72 M205.69,299.22 L206.14,299.01 L207.04,298.59 L207.95,298.16 L208.85,297.74 L209.76,297.32 L210.67,296.90 L211.57,296.48 L212.48,296.06 L212.88,295.87 M220.11,292.62 L220.69,292.37 L221.61,291.97 L222.53,291.58 L223.45,291.19 L224.37,290.80 L225.29,290.42 L226.22,290.04 L227.15,289.67 L227.42,289.56 M234.80,286.68 L235.53,286.40 L236.47,286.05 L237.40,285.70 L238.34,285.35 L239.28,285.00 L240.21,284.65 L241.15,284.31 L242.09,283.96 L242.23,283.91 M249.69,281.24 L250.56,280.93 L251.51,280.61 L252.46,280.29 L253.40,279.97 L254.35,279.65 L255.30,279.34 L256.25,279.03 L257.20,278.72 M264.78,276.39 L264.85,276.37 L265.81,276.08 L266.77,275.80 L267.72,275.51 L268.68,275.23 L269.64,274.94 L270.60,274.66 L271.56,274.38 L272.37,274.13 M279.97,271.88 L280.19,271.81 L281.15,271.53 L282.11,271.25 L283.06,270.96 L284.02,270.68 L284.98,270.40 L285.94,270.12 L286.90,269.84 L287.58,269.65 M295.21,267.53 L295.58,267.44 L296.54,267.18 L297.51,266.93 L298.48,266.67 L299.45,266.43 L300.41,266.18 L301.38,265.93 L302.35,265.69 L302.89,265.55 M310.59,263.68 L311.10,263.56 L312.07,263.33 L313.05,263.11 L314.02,262.89 L315.00,262.67 L315.97,262.45 L316.95,262.24 L317.93,262.03 L318.32,261.95 M326.10,260.45 L326.76,260.34 L327.75,260.18 L328.73,260.02 L329.72,259.87 L330.71,259.72 L331.70,259.57 L332.69,259.43 L333.68,259.29 L334.01,259.25" stroke="#00ff00"/>
<path d="M59.80,432.40 L60.59,431.78 L61.36,431.15 L62.12,430.50 L62.87,429.84 L63.62,429.17 L64.35,428.49 L65.07,427.80 L65.67,427.22 M70.98,421.45 L71.19,421.21 L71.83,420.44 L72.46,419.66 L73.09,418.89 L73.72,418.11 L74.33,417.32 L74.93,416.52 L75.52,415.71 L75.81,415.28 M79.71,408.49 L80.04,407.93 L80.56,407.08 L81.08,406.22 L81.61,405.37 L82.14,404.53 L82.67,403.68 L83.21,402.84 L83.75,401.99 L83.85,401.83 M88.12,395.26 L88.65,394.45 L89.21,393.62 L89.76,392.79 L90.32,391.96 L90.89,391.13 L91.45,390.31 L92.02,389.48 L92.51,388.77 M97.06,382.39 L97.23,382.15 L97.83,381.35 L98.42,380.54 L99.02,379.74 L99.62,378.94 L100.22,378.14 L100.82,377.34 L101.43,376.55 L101.76,376.11 M106.48,369.85 L106.84,369.36 L107.44,368.56 L108.04,367.76 L108.64,366.96 L109.23,366.16 L109.83,365.36 L110.44,364.56 L111.04,363.76 L111.18,363.58 M116.13,357.51 L116.74,356.82 L117.41,356.08 L118.08,355.34 L118.77,354.62 L119.46,353.90 L120.17,353.20 L120.88,352.50 L121.55,351.85 M127.48,346.73 L127.64,346.60 L128.42,345.98 L129.20,345.36 L129.98,344.74 L130.76,344.12 L131.54,343.50 L132.32,342.87 L133.10,342.24 L133.60,341.83 M139.57,336.76 L139.95,336.43 L140.72,335.79 L141.49,335.15 L142.26,334.52 L143.04,333.90 L143.82,333.28 L144.61,332.67 L145.41,332.07 L145.69,331.86 M152.05,327.27 L152.68,326.81 L153.49,326.22 L154.29,325.62 L155.08,325.01 L155.87,324.40 L156.65,323.78 L157.43,323.16 L158.21,322.54 L158.26,322.50 M164.42,317.65 L164.47,317.60 L165.28,317.02 L166.09,316.45 L166.92,315.89 L167.75,315.34 L168.59,314.80 L169.43,314.27 L170.28,313.75 L170.96,313.34 M177.82,309.56 L178.14,309.39 L179.03,308.92 L179.91,308.46 L180.80,308.00 L181.69,307.54 L182.58,307.08 L183.47,306.63 L184.36,306.17 L184.79,305.96 M191.81,302.48 L192.43,302.19 L193.33,301.76 L194.23,301.33 L195.14,300.91 L196.05,300.49 L196.96,300.07 L197.86,299.66 L198.78,299.25 L198.92,299.18 M206.10,296.04 L206.10,296.04 L207.02,295.64 L207.94,295.25 L208.86,294.87 L209.79,294.48 L210.71,294.09 L211.63,293.71 L212.56,293.33 L213.36,293.00 M220.64,290.03 L220.89,289.93 L221.82,289.55 L222.74,289.18 L223.67,288.80 L224.60,288.42 L225.52,288.05 L226.45,287.67 L227.38,287.30 L227.94,287.07 M235.25,284.18 L235.75,283.99 L236.68,283.64 L237.62,283.29 L238.55,282.94 L239.49,282.59 L240.43,282.25 L241.37,281.91 L242.32,281.58 L242.64,281.47 M250.09,278.95 L250.84,278.71 L251.80,278.41 L252.75,278.11 L253.70,277.81 L254.66,277.51 L255.62,277.22 L256.57,276.93 L257.53,276.64 L257.61,276.62 M265.16,274.41 L265.21,274.40 L266.17,274.12 L267.13,273.85 L268.09,273.57 L269.05,273.30 L270.02,273.02 L270.98,272.75 L271.94,272.47 L272.72,272.25 M280.29,270.08 L280.59,269.99 L281.55,269.71 L282.51,269.44 L283.47,269.16 L284.43,268.89 L285.40,268.61 L286.36,268.34 L287.32,268.07 L287.85,267.92 M295.45,265.86 L296.00,265.71 L296.97,265.46 L297.94,265.20 L298.91,264.95 L299.88,264.71 L300.85,264.46 L301.81,264.21 L302.78,263.97 L303.07,263.90 M310.71,262.02 L311.52,261.83 L312.50,261.60 L313.47,261.37 L314.45,261.15 L315.42,260.92 L316.40,260.71 L317.37,260.49 L318.35,260.28 L318.38,260.27 M326.10,258.77 L326.20,258.75 L327.18,258.58 L328.17,258.42 L329.16,258.26 L330.14,258.11 L331.13,257.96 L332.12,257.82 L333.11,257.68 L334.01,257.55" stroke="#0000ff"/>
</g>
<g stroke="#000" stroke-width="2.1" fill="none" stroke-linecap="butt">
<rect x="60.0" y="10.2" width="276.6" height="470.6"/>
<line x1="60.0" y1="240.1" x2="336.6" y2="240.1"/>
</g>
<g stroke="#000" stroke-width="1.9">
<line x1="60.0" y1="211.36" x2="66.3" y2="211.36"/>
<line x1="336.6" y1="211.36" x2="330.3" y2="211.36"/>
<line x1="60.0" y1="182.62" x2="66.3" y2="182.62"/>
<line x1="336.6" y1="182.62" x2="330.3" y2="182.62"/>
<line x1="60.0" y1="153.88" x2="66.3" y2="153.88"/>
<line x1="336.6" y1="153.88" x2="330.3" y2="153.88"/>
<line x1="60.0" y1="125.14" x2="66.3" y2="125.14"/>
<line x1="336.6" y1="125.14" x2="330.3" y2="125.14"/>
<line x1="60.0" y1="96.40" x2="66.3" y2="96.40"/>
<line x1="336.6" y1="96.40" x2="330.3" y2="96.40"/>
<line x1="60.0" y1="67.66" x2="66.3" y2="67.66"/>
<line x1="336.6" y1="67.66" x2="330.3" y2="67.66"/>
<line x1="60.0" y1="38.92" x2="66.3" y2="38.92"/>
<line x1="336.6" y1="38.92" x2="330.3" y2="38.92"/>
<line x1="60.0" y1="472.78" x2="66.3" y2="472.78"/>
<line x1="336.6" y1="472.78" x2="330.3" y2="472.78"/>
<line x1="60.0" y1="439.60" x2="66.3" y2="439.60"/>
<line x1="336.6" y1="439.60" x2="330.3" y2="439.60"/>
<line x1="60.0" y1="406.42" x2="66.3" y2="406.42"/>
<line x1="336.6" y1="406.42" x2="330.3" y2="406.42"/>
<line x1="60.0" y1="373.24" x2="66.3" y2="373.24"/>
<line x1="336.6" y1="373.24" x2="330.3" y2="373.24"/>
<line x1="60.0" y1="340.06" x2="66.3" y2="340.06"/>
<line x1="336.6" y1="340.06" x2="330.3" y2="340.06"/>
<line x1="60.0" y1="306.88" x2="66.3" y2="306.88"/>
<line x1="336.6" y1="306.88" x2="330.3" y2="306.88"/>
<line x1="60.0" y1="273.70" x2="66.3" y2="273.70"/>
<line x1="336.6" y1="273.70" x2="330.3" y2="273.70"/>
<line x1="88.40" y1="240.1" x2="88.40" y2="246.4"/>
<line x1="88.40" y1="480.8" x2="88.40" y2="474.5"/>
<line x1="123.86" y1="240.1" x2="123.86" y2="246.4"/>
<line x1="123.86" y1="480.8" x2="123.86" y2="474.5"/>
<line x1="159.32" y1="240.1" x2="159.32" y2="246.4"/>
<line x1="159.32" y1="480.8" x2="159.32" y2="474.5"/>
<line x1="194.78" y1="240.1" x2="194.78" y2="246.4"/>
<line x1="194.78" y1="480.8" x2="194.78" y2="474.5"/>
<line x1="230.24" y1="240.1" x2="230.24" y2="246.4"/>
<line x1="230.24" y1="480.8" x2="230.24" y2="474.5"/>
<line x1="265.70" y1="240.1" x2="265.70" y2="246.4"/>
<line x1="265.70" y1="480.8" x2="265.70" y2="474.5"/>
<line x1="301.16" y1="240.1" x2="301.16" y2="246.4"/>
<line x1="301.16" y1="480.8" x2="301.16" y2="474.5"/>
</g>
<g font-family="Liberation Sans, sans-serif" fill="#000" stroke="#000" stroke-width="0.2" style="filter:grayscale(1);text-rendering:geometricPrecision">
<text x="55.4" y="244.70" font-size="13" text-anchor="end">0.0</text>
<text x="55.4" y="215.96" font-size="13" text-anchor="end">0.5</text>
<text x="55.4" y="187.22" font-size="13" text-anchor="end">1.0</text>
<text x="55.4" y="158.48" font-size="13" text-anchor="end">1.5</text>
<text x="55.4" y="129.74" font-size="13" text-anchor="end">2.0</text>
<text x="55.4" y="101.00" font-size="13" text-anchor="end">2.5</text>
<text x="55.4" y="72.26" font-size="13" text-anchor="end">3.0</text>
<text x="55.4" y="43.52" font-size="13" text-anchor="end">3.5</text>
<text x="55.4" y="14.78" font-size="13" text-anchor="end">4.0</text>
<text x="55.4" y="477.38" font-size="13" text-anchor="end">0.98</text>
<text x="55.4" y="444.20" font-size="13" text-anchor="end">1.00</text>
<text x="55.4" y="411.02" font-size="13" text-anchor="end">1.02</text>
<text x="55.4" y="377.84" font-size="13" text-anchor="end">1.04</text>
<text x="55.4" y="344.66" font-size="13" text-anchor="end">1.06</text>
<text x="55.4" y="311.48" font-size="13" text-anchor="end">1.08</text>
<text x="55.4" y="278.30" font-size="13" text-anchor="end">1.10</text>
<text x="88.60" y="493.3" font-size="13" text-anchor="middle">0.5</text>
<text x="124.06" y="493.3" font-size="13" text-anchor="middle">1.0</text>
<text x="159.52" y="493.3" font-size="13" text-anchor="middle">1.5</text>
<text x="194.98" y="493.3" font-size="13" text-anchor="middle">2.0</text>
<text x="230.44" y="493.3" font-size="13" text-anchor="middle">2.5</text>
<text x="265.90" y="493.3" font-size="13" text-anchor="middle">3.0</text>
<text x="301.36" y="493.3" font-size="13" text-anchor="middle">3.5</text>
<text x="336.82" y="493.3" font-size="13" text-anchor="middle">4.0</text>
<text x="198.5" y="511.3" font-size="15" text-anchor="middle">T</text>
<text x="66.7" y="38.2" font-size="15.3">a)</text>
<text x="66.9" y="268.5" font-size="15.3">b)</text>
<text x="281.5" y="142.9" font-size="7.6" text-anchor="middle">η (%)</text>
<text x="285.4" y="151.76" font-size="8.2" text-anchor="end">0</text>
<text x="285.4" y="159.50" font-size="8.2" text-anchor="end">10</text>
<text x="285.4" y="167.23" font-size="8.2" text-anchor="end">20</text>
<text x="285.4" y="174.97" font-size="8.2" text-anchor="end">30</text>
<text x="285.4" y="182.70" font-size="8.2" text-anchor="end">40</text>
<text x="285.4" y="190.44" font-size="8.2" text-anchor="end">50</text>
<text x="285.4" y="198.17" font-size="8.2" text-anchor="end">50</text>
<text x="285.4" y="205.91" font-size="8.2" text-anchor="end">70</text>
<text x="285.4" y="213.64" font-size="8.2" text-anchor="end">70</text>
<text x="285.4" y="221.38" font-size="8.2" text-anchor="end">90</text>
<text x="285.4" y="229.11" font-size="8.2" text-anchor="end">100</text>
</g>
<g stroke-width="1.8" fill="none">
<line x1="295.8" y1="148.90" x2="318.0" y2="148.90" stroke="#000000"/>
<line x1="295.8" y1="156.64" x2="318.0" y2="156.64" stroke="#a52a2a"/>
<line x1="295.8" y1="164.37" x2="318.0" y2="164.37" stroke="#ff0000"/>
<line x1="295.8" y1="172.11" x2="318.0" y2="172.11" stroke="#00ff00"/>
<line x1="295.8" y1="179.84" x2="318.0" y2="179.84" stroke="#0000ff"/>
<line x1="295.8" y1="187.58" x2="318.0" y2="187.58" stroke="#c8c800"/>
<line x1="295.8" y1="195.31" x2="318.0" y2="195.31" stroke="#000000" stroke-dasharray="8 7.3"/>
<line x1="295.8" y1="203.05" x2="318.0" y2="203.05" stroke="#a52a2a" stroke-dasharray="8 7.3"/>
<line x1="295.8" y1="210.78" x2="318.0" y2="210.78" stroke="#ff0000" stroke-dasharray="8 7.3"/>
<line x1="295.8" y1="218.52" x2="318.0" y2="218.52" stroke="#00ff00" stroke-dasharray="8 7.3"/>
<line x1="295.8" y1="226.25" x2="318.0" y2="226.25" stroke="#0000ff" stroke-dasharray="8 7.3"/>
</g>
<g transform="translate(24.0,160.7) rotate(-90)" font-family="Liberation Sans, sans-serif" fill="#000" stroke="#000" stroke-width="0.2" style="filter:grayscale(1);text-rendering:geometricPrecision">
<polyline points="4.5,-10.7 0.2,-4.1 4.5,2.5" fill="none" stroke="#000" stroke-width="1.0" stroke-linejoin="miter"/>
<text x="5.27" y="0" font-size="15.0">R</text>
<text x="16.29" y="-7.5" font-size="12.2">2</text>
<text x="16.78" y="4.9" font-size="12.2">e</text>
<text x="23.78" y="4.9" font-size="12.2">e</text>
<text x="30.97" y="0" font-size="15.0">(</text>
<text x="35.56" y="0" font-size="15.0">T</text>
<text x="45.51" y="0" font-size="15.0">)</text>
<text x="49.90" y="0" font-size="15.0">/</text>
<text x="54.77" y="0" font-size="15.0">N</text>
<polyline points="65.3,-10.7 69.6,-4.1 65.3,2.5" fill="none" stroke="#000" stroke-width="1.0" stroke-linejoin="miter"/>
</g>
<g transform="translate(19.9,392.0) rotate(-90)" font-family="Liberation Sans, sans-serif" fill="#000" stroke="#000" stroke-width="0.2" style="filter:grayscale(1);text-rendering:geometricPrecision">
<polyline points="4.2,-10.7 0.2,-4.1 4.2,2.5" fill="none" stroke="#000" stroke-width="1.0" stroke-linejoin="miter"/>
<text x="5.27" y="0" font-size="15.0">R</text>
<text x="16.78" y="4.9" font-size="12.2">c</text>
<text x="23.27" y="0" font-size="15.0">(</text>
<text x="28.36" y="0" font-size="15.0">T</text>
<text x="38.31" y="0" font-size="15.0">)</text>
<text x="42.70" y="0" font-size="15.0">/</text>
<text x="47.57" y="0" font-size="15.0">N</text>
<polyline points="58.1,-10.7 62.4,-4.1 58.1,2.5" fill="none" stroke="#000" stroke-width="1.0" stroke-linejoin="miter"/>
</g>
</svg>
</body></html>
